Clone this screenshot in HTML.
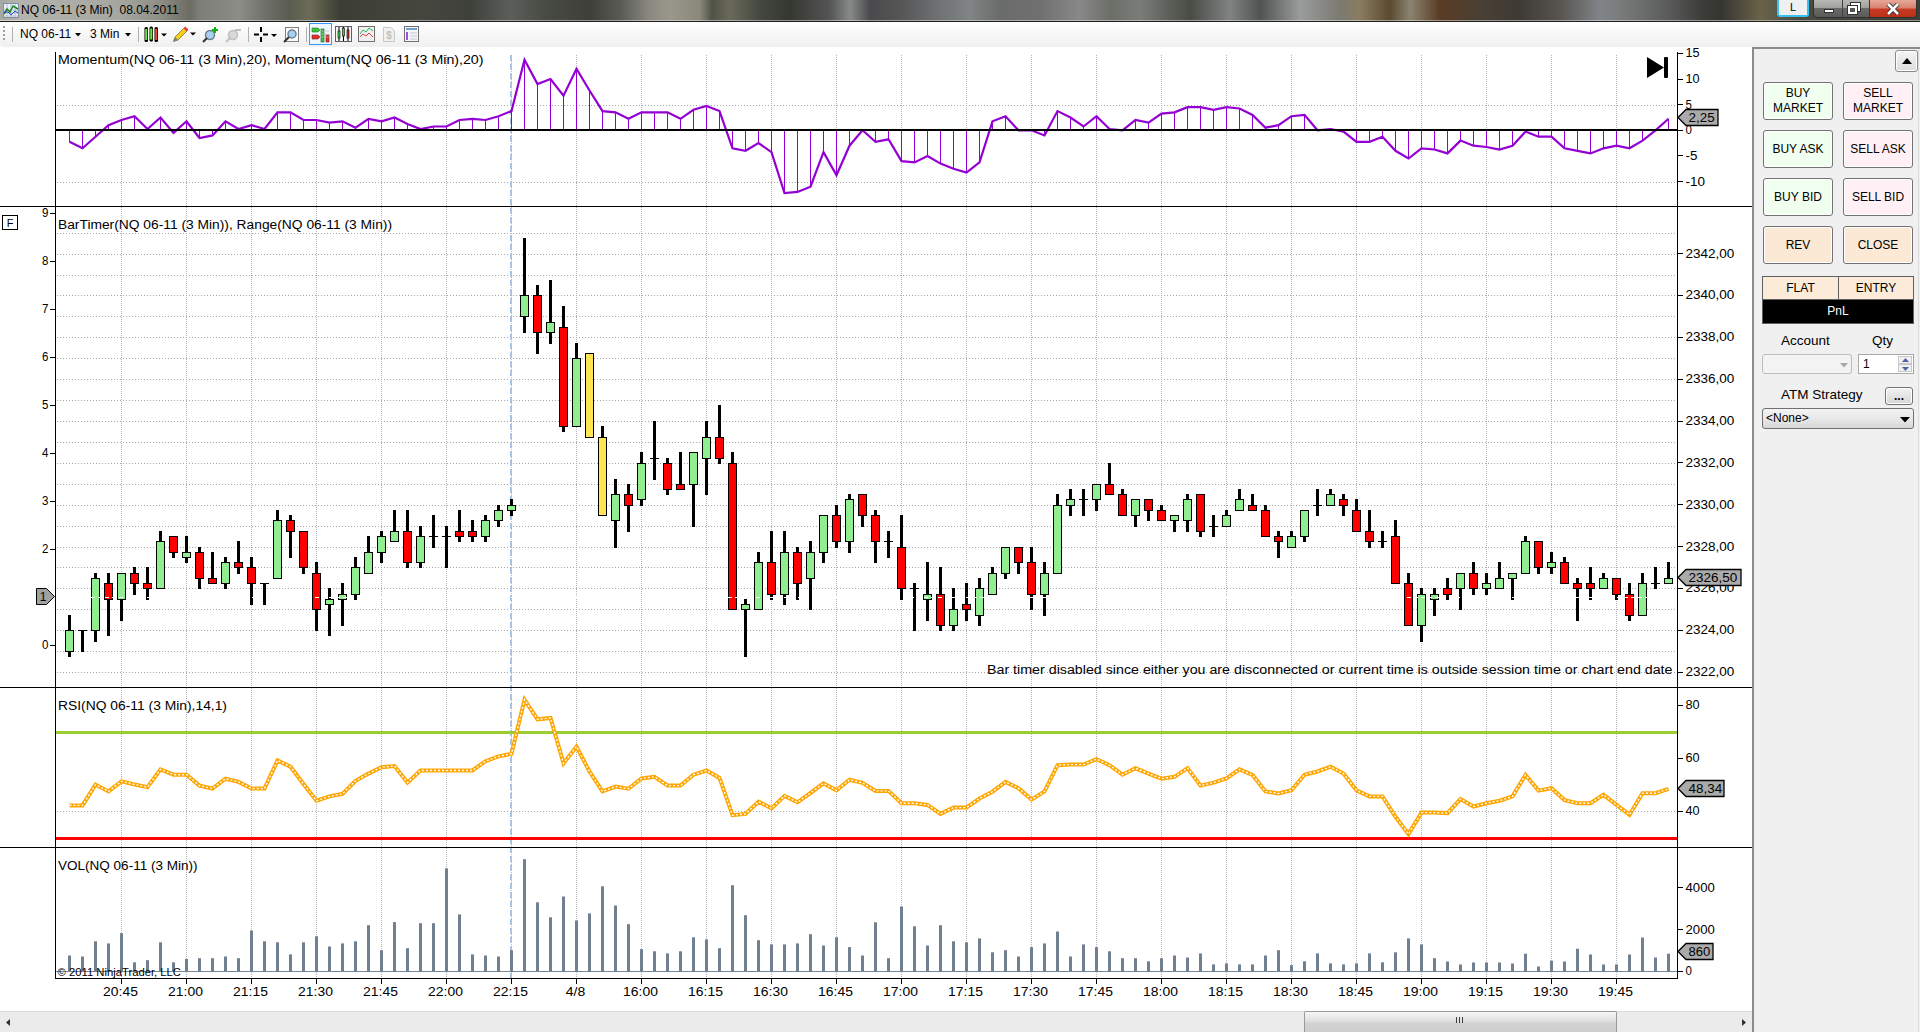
<!DOCTYPE html>
<html><head><meta charset="utf-8">
<style>
*{box-sizing:border-box}
html,body{margin:0;padding:0}
body{width:1920px;height:1032px;overflow:hidden;position:relative;background:#fff;font-family:"Liberation Sans",sans-serif;color:#000}
.abs{position:absolute}
#title{left:0;top:0;width:1920px;height:22px;background:linear-gradient(90deg,#a8a8a2 0px,#b4b4ae 20px,#a6a6a0 120px,#8e8e86 160px,#6c6c62 190px,#7c7e78 200px,#8c8d88 240px,#6e706a 265px,#5a5c50 290px,#6c6c58 310px,#3c3e34 340px,#45473f 420px,#3e403a 470px,#5c5e5a 510px,#484a44 545px,#3e4038 590px,#585a54 620px,#8c8a80 650px,#9a988c 670px,#8a887a 700px,#505246 712px,#6a6a5a 730px,#454840 760px,#353830 790px,#555555 830px,#888a8a 850px,#4a4a4c 870px,#555556 900px,#707274 940px,#808484 970px,#6a6c6a 1000px,#707070 1040px,#888888 1080px,#6c6e68 1110px,#7a7c78 1140px,#484c44 1190px,#808284 1230px,#505450 1260px,#9a9c9c 1300px,#7a7a70 1340px,#8a7c60 1360px,#5a4a30 1390px,#8a8470 1410px,#5a3c24 1440px,#4a4034 1480px,#3e3a34 1520px,#585450 1560px,#808488 1600px,#7a7c7c 1620px,#5c5e5e 1665px,#3e3e3a 1700px,#353532 1720px,#4e4a3c 1740px,#6a6248 1760px,#5a5848 1780px,#4a4a40 1800px,#3e3e38 1920px);}
#title .hl{position:absolute;left:0;right:0;top:20px;height:1px;background:rgba(255,255,255,0.45)}
#title .dk{position:absolute;left:0;right:0;top:21px;height:1px;background:#1e1e1e}
#title .t{position:absolute;left:21px;top:3px;font-size:12px;color:#000;white-space:nowrap}
#toolbar{left:0;top:22px;width:1920px;height:25px;background:linear-gradient(#ffffff,#f7f7f7 50%,#efefef);border-bottom-left-radius:4px}
.tbt{position:absolute;top:5px;font-size:12px;white-space:nowrap}
#rpanel{left:1752px;top:47px;width:168px;height:985px;background:#f0f0f0;border-left:2px solid #8c8c8c;border-top:2px solid #8c8c8c}
#rpanel:after{content:"";position:absolute;right:1px;top:0;bottom:0;width:1px;background:#dcdcdc}
.btn{position:absolute;border:1px solid #737373;border-radius:3px;font-size:12px;text-align:center;line-height:15px;display:flex;align-items:center;justify-content:center;box-shadow:inset 0 0 0 1px #fff}
.buy{background:#f0fff0}
.sell{background:#fff0f5}
.peach{background:#fbe9d6}
.lbl{position:absolute;font-size:13.5px;white-space:nowrap}
#hscroll{left:0;top:1011px;width:1752px;height:21px;background:#ebebeb;border-top:1px solid #dcdcdc}
</style></head><body>
<div id="title" class="abs"><div class="hl"></div><div class="dk"></div>
<svg class="abs" style="left:3px;top:3px" width="16" height="15" viewBox="0 0 16 15">
<rect x="0.5" y="0.5" width="15" height="14" fill="#e8f0f8" stroke="#8090a0"/>
<path d="M1 13 H15 M1 10 H15 M1 7 H15 M4 1 V14 M8 1 V14 M12 1 V14" stroke="#b0c0d0" stroke-width="1"/>
<polyline points="1,11 4,6 7,9 10,3 15,6" fill="none" stroke="#208020" stroke-width="1.5"/>
<polyline points="1,9 5,9 8,12 12,8 15,10" fill="none" stroke="#2040c0" stroke-width="1"/>
</svg>
<span class="t">NQ 06-11 (3 Min)&nbsp;&nbsp;08.04.2011</span>
<div class="abs" style="left:1777px;top:0;width:32px;height:17px;background:#eef0f2;border:2px solid #38c0f0;border-top:none;border-radius:0 0 3px 3px;font-size:11px;text-align:center;line-height:15px">L</div>
<div class="abs" style="left:1813px;top:0;width:104px;height:18px;border:1px solid #303030;border-top:none;border-radius:0 0 5px 5px;overflow:hidden;background:linear-gradient(#b8b8b4 0%,#a0a09c 45%,#6a6a68 50%,#5a5a58 100%)">
  <div class="abs" style="left:28px;top:0;width:1px;height:18px;background:#404040"></div>
  <div class="abs" style="left:55px;top:0;width:48px;height:18px;background:linear-gradient(#e8a898 0%,#d88070 45%,#c83a20 50%,#b83018 100%);border-left:1px solid #403030"></div>
  <div class="abs" style="left:10px;top:9px;width:10px;height:4px;background:#fff;border:1px solid #333"></div>
  <div class="abs" style="left:37px;top:3px;width:9px;height:8px;border:2px solid #fff;outline:1px solid #333"></div>
  <div class="abs" style="left:34px;top:6px;width:9px;height:8px;border:2px solid #fff;background:#555;outline:1px solid #333"></div>
  <svg class="abs" style="left:72px;top:3px" width="14" height="12" viewBox="0 0 14 12"><path d="M2 1 L12 11 M12 1 L2 11" stroke="#333" stroke-width="4.5"/><path d="M2 1 L12 11 M12 1 L2 11" stroke="#fff" stroke-width="2.6"/></svg>
</div>
</div>
<div id="toolbar" class="abs">
  <div class="abs" style="left:3px;top:4px;width:2px;height:2px;background:#a0a0a0;box-shadow:0 4px #a0a0a0,0 8px #a0a0a0,0 12px #a0a0a0"></div>
  <div class="abs" style="left:12px;top:5px;width:1px;height:15px;background:#b0b0b0"></div>
  <span class="tbt" style="left:20px">NQ 06-11</span>
  <svg class="abs" style="left:75px;top:11px" width="7" height="4"><path d="M0 0H6L3 3.5Z" fill="#000"/></svg>
  <span class="tbt" style="left:90px">3 Min</span>
  <svg class="abs" style="left:125px;top:11px" width="7" height="4"><path d="M0 0H6L3 3.5Z" fill="#000"/></svg>
  <div class="abs" style="left:138px;top:5px;width:1px;height:15px;background:#b0b0b0"></div>
  <svg class="abs" style="left:143px;top:4px" width="26" height="17" viewBox="0 0 26 17">
    <rect x="1.5" y="1" width="3.5" height="15" rx="1.5" fill="#000"/><rect x="2.2" y="3" width="2.1" height="11" fill="#70e040"/>
    <rect x="6.5" y="0.5" width="3.5" height="15" rx="1.5" fill="#000"/><rect x="7.2" y="2.5" width="2.1" height="11" fill="#70e040"/>
    <rect x="11.5" y="1" width="3.5" height="15" rx="1.5" fill="#000"/><rect x="12.2" y="3" width="2.1" height="11" fill="#f04838"/>
    <path d="M18 7.5H24L21 10.5Z" fill="#000"/></svg>
  <svg class="abs" style="left:172px;top:3px" width="27" height="18" viewBox="0 0 27 18">
    <path d="M1.5 16.5 L3 12 L12.5 2.5 L15.5 5.5 L6 15 Z" fill="#f0d020" stroke="#907020" stroke-width="0.8"/>
    <path d="M12.5 2.5 L15.5 5.5" stroke="#e84040" stroke-width="2.5"/><path d="M1.5 16.5 L3 12 L6 15Z" fill="#808080"/>
    <path d="M18 7.5H24L21 10.5Z" fill="#000"/></svg>
  <svg class="abs" style="left:202px;top:5px" width="17" height="16" viewBox="0 0 17 16">
    <circle cx="8" cy="8" r="4.5" fill="#a8d0f0" stroke="#708090" stroke-width="1.5"/><path d="M5 11 L1 15" stroke="#303030" stroke-width="2"/>
    <path d="M13 0V6M10 3H16" stroke="#10b010" stroke-width="2"/></svg>
  <svg class="abs" style="left:225px;top:5px" width="17" height="16" viewBox="0 0 17 16">
    <circle cx="8" cy="8" r="4.5" fill="#d8d8d8" stroke="#c0c0c0" stroke-width="1.5"/><path d="M5 11 L1 15" stroke="#c0c0c0" stroke-width="2"/>
    <path d="M10 3H16" stroke="#c0c0c0" stroke-width="2"/></svg>
  <div class="abs" style="left:248px;top:5px;width:1px;height:15px;background:#b0b0b0"></div>
  <svg class="abs" style="left:253px;top:4px" width="25" height="17" viewBox="0 0 25 17">
    <path d="M8 1V6M8 11V16M1 8.5H6M10 8.5H15" stroke="#000" stroke-width="2"/>
    <path d="M18 8H24L21 11Z" fill="#000"/></svg>
  <svg class="abs" style="left:283px;top:4px" width="16" height="17" viewBox="0 0 16 17">
    <rect x="2.5" y="1.5" width="13" height="14" fill="#fafafa" stroke="#808080"/>
    <circle cx="9" cy="8" r="4" fill="#a8d0f0" stroke="#708090" stroke-width="1.5"/><path d="M6 11 L1 16" stroke="#303030" stroke-width="2"/></svg>
  <div class="abs" style="left:306px;top:5px;width:1px;height:15px;background:#b0b0b0"></div>
  <div class="abs" style="left:309px;top:1px;width:23px;height:22px;border:1px solid #3399ff;background:#eef6ff"></div>
  <svg class="abs" style="left:311px;top:3px" width="20" height="18" viewBox="0 0 20 18">
    <path d="M1 3H7L9 5L7 7H1Z" fill="#40c040" stroke="#208020" stroke-width="0.6"/>
    <path d="M1 10H7L9 12L7 14H1Z" fill="#e03030" stroke="#802020" stroke-width="0.6"/>
    <rect x="10" y="4" width="3" height="13" fill="#40c040" stroke="#206020" stroke-width="0.6"/>
    <rect x="15" y="10" width="3" height="7" fill="#e03030" stroke="#802020" stroke-width="0.6"/>
    <path d="M9 6H19M9 9H19M9 12H19" stroke="#c0c0c0" stroke-width="0.6"/></svg>
  <svg class="abs" style="left:335px;top:3px" width="17" height="18" viewBox="0 0 17 18">
    <rect x="0.5" y="1.5" width="16" height="15" fill="#f4f4f4" stroke="#606060"/>
    <path d="M4 2V16M8.5 2V16M13 2V16" stroke="#000" stroke-width="1"/>
    <rect x="3" y="6" width="2" height="7" fill="#40d040" stroke="#000" stroke-width="0.6"/>
    <rect x="7.5" y="3" width="2" height="8" fill="#40d040" stroke="#000" stroke-width="0.6"/>
    <rect x="12" y="5" width="2" height="8" fill="#e03030" stroke="#000" stroke-width="0.6"/></svg>
  <svg class="abs" style="left:358px;top:3px" width="17" height="18" viewBox="0 0 17 18">
    <rect x="0.5" y="1.5" width="16" height="15" fill="#f0f0f0" stroke="#707070"/>
    <polyline points="2,9 5,5 8,7 11,3 15,6" fill="none" stroke="#30b060" stroke-width="1"/>
    <polyline points="2,12 5,9 8,11 11,8 15,12" fill="none" stroke="#e04040" stroke-width="1"/></svg>
  <svg class="abs" style="left:382px;top:4px" width="14" height="17" viewBox="0 0 14 17">
    <path d="M1.5 1.5H9L12.5 5V15.5H1.5Z" fill="#f0f0f0" stroke="#c8c8c8"/>
    <text x="7" y="13" font-size="10" font-family="Liberation Sans, sans-serif" fill="#c0c0c0" text-anchor="middle" font-weight="bold">$</text></svg>
  <svg class="abs" style="left:404px;top:3px" width="16" height="18" viewBox="0 0 16 18">
    <rect x="0.5" y="1.5" width="14" height="15" fill="#f4f6fa" stroke="#707070"/>
    <rect x="2" y="3" width="11" height="2" fill="#70a0d0"/>
    <rect x="2" y="7" width="2" height="8" fill="#a050e0"/>
    <path d="M6 8H13M6 11H13M6 14H13" stroke="#c0c8d0" stroke-width="1"/></svg>
</div>
<div id="rpanel" class="abs">
  <div class="btn" style="left:141px;top:1px;width:23px;height:22px;background:linear-gradient(#f4f4f4,#dcdcdc);border-color:#8a8a8a"><svg width="10" height="6"><path d="M0 6H10L5 0Z" fill="#000"/></svg></div>
</div>
<div class="btn buy abs" style="left:1763px;top:82px;width:70px;height:38px">BUY<br>MARKET</div>
<div class="btn sell abs" style="left:1843px;top:82px;width:70px;height:38px">SELL<br>MARKET</div>
<div class="btn buy abs" style="left:1763px;top:130px;width:70px;height:38px">BUY ASK</div>
<div class="btn sell abs" style="left:1843px;top:130px;width:70px;height:38px">SELL ASK</div>
<div class="btn buy abs" style="left:1763px;top:178px;width:70px;height:38px">BUY BID</div>
<div class="btn sell abs" style="left:1843px;top:178px;width:70px;height:38px">SELL BID</div>
<div class="btn peach abs" style="left:1763px;top:226px;width:70px;height:38px">REV</div>
<div class="btn peach abs" style="left:1843px;top:226px;width:70px;height:38px">CLOSE</div>
<div class="abs" style="left:1762px;top:276px;width:152px;height:48px;border:1px solid #606060;background:#000">
  <div class="abs" style="left:0;top:0;width:76px;height:23px;background:#fbebd8;border-right:1px solid #606060;border-bottom:1px solid #606060;font-size:12px;text-align:center;line-height:23px">FLAT</div>
  <div class="abs" style="left:76px;top:0;width:74px;height:23px;background:#fbebd8;border-bottom:1px solid #606060;font-size:12px;text-align:center;line-height:23px">ENTRY</div>
  <div class="abs" style="left:0;top:23px;width:150px;height:23px;color:#fff;font-size:12px;text-align:center;line-height:23px">PnL</div>
</div>
<span class="lbl abs" style="left:1781px;top:333px">Account</span>
<span class="lbl abs" style="left:1872px;top:333px">Qty</span>
<div class="abs" style="left:1762px;top:354px;width:90px;height:20px;border:1px solid #bcbcbc;border-radius:3px;background:#f3f3f3">
  <svg class="abs" style="left:77px;top:8px" width="9" height="5"><path d="M0 0H8L4 4.5Z" fill="#a8a8a8"/></svg></div>
<div class="abs" style="left:1858px;top:354px;width:56px;height:20px;border:1px solid #a8a8a8;background:#fff;font-size:12px;line-height:18px;padding-left:4px">1
  <div class="abs" style="left:39px;top:1px;width:14px;height:8px;border:1px solid #c8c8c8;background:#f0f0f0"><svg class="abs" style="left:3px;top:1px" width="7" height="4"><path d="M0 4H7L3.5 0Z" fill="#5060a0"/></svg></div>
  <div class="abs" style="left:39px;top:9px;width:14px;height:8px;border:1px solid #c8c8c8;background:#f0f0f0"><svg class="abs" style="left:3px;top:2px" width="7" height="4"><path d="M0 0H7L3.5 4Z" fill="#5060a0"/></svg></div>
</div>
<span class="lbl abs" style="left:1781px;top:387px">ATM Strategy</span>
<div class="btn abs" style="left:1885px;top:387px;width:28px;height:18px;background:linear-gradient(#f2f2f2,#d6d6d6);font-weight:bold;line-height:10px;align-items:flex-end;padding-bottom:3px">...</div>
<div class="abs" style="left:1762px;top:408px;width:152px;height:21px;border:1px solid #707070;border-radius:3px;background:linear-gradient(#f4f4f4,#e8e8e8 50%,#d8d8d8);font-size:12px;line-height:19px;padding-left:3px">&lt;None&gt;
  <svg class="abs" style="left:137px;top:8px" width="10" height="6"><path d="M0 0H10L5 5.5Z" fill="#000"/></svg></div>
<div id="hscroll" class="abs">
  <svg class="abs" style="left:6px;top:7px" width="5" height="8"><path d="M4 0V7L0 3.5Z" fill="#303030"/></svg>
  <div class="abs" style="left:1304px;top:-1px;width:313px;height:21px;border:1px solid #9a9a9a;border-bottom:none;border-radius:2px 2px 0 0;background:linear-gradient(#f6f6f6,#e0e0e0 45%,#d2d2d2 55%,#cfcfcf)">
    <div class="abs" style="left:151px;top:5px;width:1px;height:6px;background:#404040;box-shadow:3px 0 #404040,6px 0 #404040"></div>
  </div>
  <svg class="abs" style="left:1742px;top:7px" width="5" height="8"><path d="M0 0V7L4 3.5Z" fill="#303030"/></svg>
</div>
<svg id="chart" class="abs" style="left:0;top:0;pointer-events:none" width="1920" height="1032" viewBox="0 0 1920 1032">
<rect x="0" y="47" width="1752" height="964" fill="#fff"/>
<line x1="121.5" y1="55" x2="121.5" y2="206" stroke="#b4b6bc" stroke-width="1" stroke-dasharray="1 1"/>
<line x1="186.5" y1="55" x2="186.5" y2="206" stroke="#b4b6bc" stroke-width="1" stroke-dasharray="1 1"/>
<line x1="251.5" y1="55" x2="251.5" y2="206" stroke="#b4b6bc" stroke-width="1" stroke-dasharray="1 1"/>
<line x1="316.5" y1="55" x2="316.5" y2="206" stroke="#b4b6bc" stroke-width="1" stroke-dasharray="1 1"/>
<line x1="381.5" y1="55" x2="381.5" y2="206" stroke="#b4b6bc" stroke-width="1" stroke-dasharray="1 1"/>
<line x1="446.5" y1="55" x2="446.5" y2="206" stroke="#b4b6bc" stroke-width="1" stroke-dasharray="1 1"/>
<line x1="511.5" y1="55" x2="511.5" y2="206" stroke="#b4b6bc" stroke-width="1" stroke-dasharray="1 1"/>
<line x1="576.5" y1="55" x2="576.5" y2="206" stroke="#b4b6bc" stroke-width="1" stroke-dasharray="1 1"/>
<line x1="641.5" y1="55" x2="641.5" y2="206" stroke="#b4b6bc" stroke-width="1" stroke-dasharray="1 1"/>
<line x1="706.5" y1="55" x2="706.5" y2="206" stroke="#b4b6bc" stroke-width="1" stroke-dasharray="1 1"/>
<line x1="771.5" y1="55" x2="771.5" y2="206" stroke="#b4b6bc" stroke-width="1" stroke-dasharray="1 1"/>
<line x1="836.5" y1="55" x2="836.5" y2="206" stroke="#b4b6bc" stroke-width="1" stroke-dasharray="1 1"/>
<line x1="901.5" y1="55" x2="901.5" y2="206" stroke="#b4b6bc" stroke-width="1" stroke-dasharray="1 1"/>
<line x1="966.5" y1="55" x2="966.5" y2="206" stroke="#b4b6bc" stroke-width="1" stroke-dasharray="1 1"/>
<line x1="1031.5" y1="55" x2="1031.5" y2="206" stroke="#b4b6bc" stroke-width="1" stroke-dasharray="1 1"/>
<line x1="1096.5" y1="55" x2="1096.5" y2="206" stroke="#b4b6bc" stroke-width="1" stroke-dasharray="1 1"/>
<line x1="1161.5" y1="55" x2="1161.5" y2="206" stroke="#b4b6bc" stroke-width="1" stroke-dasharray="1 1"/>
<line x1="1226.5" y1="55" x2="1226.5" y2="206" stroke="#b4b6bc" stroke-width="1" stroke-dasharray="1 1"/>
<line x1="1291.5" y1="55" x2="1291.5" y2="206" stroke="#b4b6bc" stroke-width="1" stroke-dasharray="1 1"/>
<line x1="1356.5" y1="55" x2="1356.5" y2="206" stroke="#b4b6bc" stroke-width="1" stroke-dasharray="1 1"/>
<line x1="1421.5" y1="55" x2="1421.5" y2="206" stroke="#b4b6bc" stroke-width="1" stroke-dasharray="1 1"/>
<line x1="1486.5" y1="55" x2="1486.5" y2="206" stroke="#b4b6bc" stroke-width="1" stroke-dasharray="1 1"/>
<line x1="1551.5" y1="55" x2="1551.5" y2="206" stroke="#b4b6bc" stroke-width="1" stroke-dasharray="1 1"/>
<line x1="1616.5" y1="55" x2="1616.5" y2="206" stroke="#b4b6bc" stroke-width="1" stroke-dasharray="1 1"/>
<line x1="121.5" y1="207" x2="121.5" y2="687" stroke="#b4b6bc" stroke-width="1" stroke-dasharray="1 1"/>
<line x1="186.5" y1="207" x2="186.5" y2="687" stroke="#b4b6bc" stroke-width="1" stroke-dasharray="1 1"/>
<line x1="251.5" y1="207" x2="251.5" y2="687" stroke="#b4b6bc" stroke-width="1" stroke-dasharray="1 1"/>
<line x1="316.5" y1="207" x2="316.5" y2="687" stroke="#b4b6bc" stroke-width="1" stroke-dasharray="1 1"/>
<line x1="381.5" y1="207" x2="381.5" y2="687" stroke="#b4b6bc" stroke-width="1" stroke-dasharray="1 1"/>
<line x1="446.5" y1="207" x2="446.5" y2="687" stroke="#b4b6bc" stroke-width="1" stroke-dasharray="1 1"/>
<line x1="511.5" y1="207" x2="511.5" y2="687" stroke="#b4b6bc" stroke-width="1" stroke-dasharray="1 1"/>
<line x1="576.5" y1="207" x2="576.5" y2="687" stroke="#b4b6bc" stroke-width="1" stroke-dasharray="1 1"/>
<line x1="641.5" y1="207" x2="641.5" y2="687" stroke="#b4b6bc" stroke-width="1" stroke-dasharray="1 1"/>
<line x1="706.5" y1="207" x2="706.5" y2="687" stroke="#b4b6bc" stroke-width="1" stroke-dasharray="1 1"/>
<line x1="771.5" y1="207" x2="771.5" y2="687" stroke="#b4b6bc" stroke-width="1" stroke-dasharray="1 1"/>
<line x1="836.5" y1="207" x2="836.5" y2="687" stroke="#b4b6bc" stroke-width="1" stroke-dasharray="1 1"/>
<line x1="901.5" y1="207" x2="901.5" y2="687" stroke="#b4b6bc" stroke-width="1" stroke-dasharray="1 1"/>
<line x1="966.5" y1="207" x2="966.5" y2="687" stroke="#b4b6bc" stroke-width="1" stroke-dasharray="1 1"/>
<line x1="1031.5" y1="207" x2="1031.5" y2="687" stroke="#b4b6bc" stroke-width="1" stroke-dasharray="1 1"/>
<line x1="1096.5" y1="207" x2="1096.5" y2="687" stroke="#b4b6bc" stroke-width="1" stroke-dasharray="1 1"/>
<line x1="1161.5" y1="207" x2="1161.5" y2="687" stroke="#b4b6bc" stroke-width="1" stroke-dasharray="1 1"/>
<line x1="1226.5" y1="207" x2="1226.5" y2="687" stroke="#b4b6bc" stroke-width="1" stroke-dasharray="1 1"/>
<line x1="1291.5" y1="207" x2="1291.5" y2="687" stroke="#b4b6bc" stroke-width="1" stroke-dasharray="1 1"/>
<line x1="1356.5" y1="207" x2="1356.5" y2="687" stroke="#b4b6bc" stroke-width="1" stroke-dasharray="1 1"/>
<line x1="1421.5" y1="207" x2="1421.5" y2="687" stroke="#b4b6bc" stroke-width="1" stroke-dasharray="1 1"/>
<line x1="1486.5" y1="207" x2="1486.5" y2="687" stroke="#b4b6bc" stroke-width="1" stroke-dasharray="1 1"/>
<line x1="1551.5" y1="207" x2="1551.5" y2="687" stroke="#b4b6bc" stroke-width="1" stroke-dasharray="1 1"/>
<line x1="1616.5" y1="207" x2="1616.5" y2="687" stroke="#b4b6bc" stroke-width="1" stroke-dasharray="1 1"/>
<line x1="121.5" y1="688" x2="121.5" y2="847" stroke="#b4b6bc" stroke-width="1" stroke-dasharray="1 1"/>
<line x1="186.5" y1="688" x2="186.5" y2="847" stroke="#b4b6bc" stroke-width="1" stroke-dasharray="1 1"/>
<line x1="251.5" y1="688" x2="251.5" y2="847" stroke="#b4b6bc" stroke-width="1" stroke-dasharray="1 1"/>
<line x1="316.5" y1="688" x2="316.5" y2="847" stroke="#b4b6bc" stroke-width="1" stroke-dasharray="1 1"/>
<line x1="381.5" y1="688" x2="381.5" y2="847" stroke="#b4b6bc" stroke-width="1" stroke-dasharray="1 1"/>
<line x1="446.5" y1="688" x2="446.5" y2="847" stroke="#b4b6bc" stroke-width="1" stroke-dasharray="1 1"/>
<line x1="511.5" y1="688" x2="511.5" y2="847" stroke="#b4b6bc" stroke-width="1" stroke-dasharray="1 1"/>
<line x1="576.5" y1="688" x2="576.5" y2="847" stroke="#b4b6bc" stroke-width="1" stroke-dasharray="1 1"/>
<line x1="641.5" y1="688" x2="641.5" y2="847" stroke="#b4b6bc" stroke-width="1" stroke-dasharray="1 1"/>
<line x1="706.5" y1="688" x2="706.5" y2="847" stroke="#b4b6bc" stroke-width="1" stroke-dasharray="1 1"/>
<line x1="771.5" y1="688" x2="771.5" y2="847" stroke="#b4b6bc" stroke-width="1" stroke-dasharray="1 1"/>
<line x1="836.5" y1="688" x2="836.5" y2="847" stroke="#b4b6bc" stroke-width="1" stroke-dasharray="1 1"/>
<line x1="901.5" y1="688" x2="901.5" y2="847" stroke="#b4b6bc" stroke-width="1" stroke-dasharray="1 1"/>
<line x1="966.5" y1="688" x2="966.5" y2="847" stroke="#b4b6bc" stroke-width="1" stroke-dasharray="1 1"/>
<line x1="1031.5" y1="688" x2="1031.5" y2="847" stroke="#b4b6bc" stroke-width="1" stroke-dasharray="1 1"/>
<line x1="1096.5" y1="688" x2="1096.5" y2="847" stroke="#b4b6bc" stroke-width="1" stroke-dasharray="1 1"/>
<line x1="1161.5" y1="688" x2="1161.5" y2="847" stroke="#b4b6bc" stroke-width="1" stroke-dasharray="1 1"/>
<line x1="1226.5" y1="688" x2="1226.5" y2="847" stroke="#b4b6bc" stroke-width="1" stroke-dasharray="1 1"/>
<line x1="1291.5" y1="688" x2="1291.5" y2="847" stroke="#b4b6bc" stroke-width="1" stroke-dasharray="1 1"/>
<line x1="1356.5" y1="688" x2="1356.5" y2="847" stroke="#b4b6bc" stroke-width="1" stroke-dasharray="1 1"/>
<line x1="1421.5" y1="688" x2="1421.5" y2="847" stroke="#b4b6bc" stroke-width="1" stroke-dasharray="1 1"/>
<line x1="1486.5" y1="688" x2="1486.5" y2="847" stroke="#b4b6bc" stroke-width="1" stroke-dasharray="1 1"/>
<line x1="1551.5" y1="688" x2="1551.5" y2="847" stroke="#b4b6bc" stroke-width="1" stroke-dasharray="1 1"/>
<line x1="1616.5" y1="688" x2="1616.5" y2="847" stroke="#b4b6bc" stroke-width="1" stroke-dasharray="1 1"/>
<line x1="121.5" y1="848" x2="121.5" y2="978" stroke="#b4b6bc" stroke-width="1" stroke-dasharray="1 1"/>
<line x1="186.5" y1="848" x2="186.5" y2="978" stroke="#b4b6bc" stroke-width="1" stroke-dasharray="1 1"/>
<line x1="251.5" y1="848" x2="251.5" y2="978" stroke="#b4b6bc" stroke-width="1" stroke-dasharray="1 1"/>
<line x1="316.5" y1="848" x2="316.5" y2="978" stroke="#b4b6bc" stroke-width="1" stroke-dasharray="1 1"/>
<line x1="381.5" y1="848" x2="381.5" y2="978" stroke="#b4b6bc" stroke-width="1" stroke-dasharray="1 1"/>
<line x1="446.5" y1="848" x2="446.5" y2="978" stroke="#b4b6bc" stroke-width="1" stroke-dasharray="1 1"/>
<line x1="511.5" y1="848" x2="511.5" y2="978" stroke="#b4b6bc" stroke-width="1" stroke-dasharray="1 1"/>
<line x1="576.5" y1="848" x2="576.5" y2="978" stroke="#b4b6bc" stroke-width="1" stroke-dasharray="1 1"/>
<line x1="641.5" y1="848" x2="641.5" y2="978" stroke="#b4b6bc" stroke-width="1" stroke-dasharray="1 1"/>
<line x1="706.5" y1="848" x2="706.5" y2="978" stroke="#b4b6bc" stroke-width="1" stroke-dasharray="1 1"/>
<line x1="771.5" y1="848" x2="771.5" y2="978" stroke="#b4b6bc" stroke-width="1" stroke-dasharray="1 1"/>
<line x1="836.5" y1="848" x2="836.5" y2="978" stroke="#b4b6bc" stroke-width="1" stroke-dasharray="1 1"/>
<line x1="901.5" y1="848" x2="901.5" y2="978" stroke="#b4b6bc" stroke-width="1" stroke-dasharray="1 1"/>
<line x1="966.5" y1="848" x2="966.5" y2="978" stroke="#b4b6bc" stroke-width="1" stroke-dasharray="1 1"/>
<line x1="1031.5" y1="848" x2="1031.5" y2="978" stroke="#b4b6bc" stroke-width="1" stroke-dasharray="1 1"/>
<line x1="1096.5" y1="848" x2="1096.5" y2="978" stroke="#b4b6bc" stroke-width="1" stroke-dasharray="1 1"/>
<line x1="1161.5" y1="848" x2="1161.5" y2="978" stroke="#b4b6bc" stroke-width="1" stroke-dasharray="1 1"/>
<line x1="1226.5" y1="848" x2="1226.5" y2="978" stroke="#b4b6bc" stroke-width="1" stroke-dasharray="1 1"/>
<line x1="1291.5" y1="848" x2="1291.5" y2="978" stroke="#b4b6bc" stroke-width="1" stroke-dasharray="1 1"/>
<line x1="1356.5" y1="848" x2="1356.5" y2="978" stroke="#b4b6bc" stroke-width="1" stroke-dasharray="1 1"/>
<line x1="1421.5" y1="848" x2="1421.5" y2="978" stroke="#b4b6bc" stroke-width="1" stroke-dasharray="1 1"/>
<line x1="1486.5" y1="848" x2="1486.5" y2="978" stroke="#b4b6bc" stroke-width="1" stroke-dasharray="1 1"/>
<line x1="1551.5" y1="848" x2="1551.5" y2="978" stroke="#b4b6bc" stroke-width="1" stroke-dasharray="1 1"/>
<line x1="1616.5" y1="848" x2="1616.5" y2="978" stroke="#b4b6bc" stroke-width="1" stroke-dasharray="1 1"/>
<line x1="57" y1="105.5" x2="1677" y2="105.5" stroke="#a8a8ac" stroke-width="1" stroke-dasharray="1 2"/>
<line x1="57" y1="182.5" x2="1677" y2="182.5" stroke="#a8a8ac" stroke-width="1" stroke-dasharray="1 2"/>
<line x1="57" y1="672.5" x2="1677" y2="672.5" stroke="#a8a8ac" stroke-width="1" stroke-dasharray="1 2"/>
<line x1="57" y1="651.5" x2="1677" y2="651.5" stroke="#a8a8ac" stroke-width="1" stroke-dasharray="1 2"/>
<line x1="57" y1="630.5" x2="1677" y2="630.5" stroke="#a8a8ac" stroke-width="1" stroke-dasharray="1 2"/>
<line x1="57" y1="609.5" x2="1677" y2="609.5" stroke="#a8a8ac" stroke-width="1" stroke-dasharray="1 2"/>
<line x1="57" y1="588.5" x2="1677" y2="588.5" stroke="#a8a8ac" stroke-width="1" stroke-dasharray="1 2"/>
<line x1="57" y1="567.5" x2="1677" y2="567.5" stroke="#a8a8ac" stroke-width="1" stroke-dasharray="1 2"/>
<line x1="57" y1="547.5" x2="1677" y2="547.5" stroke="#a8a8ac" stroke-width="1" stroke-dasharray="1 2"/>
<line x1="57" y1="526.5" x2="1677" y2="526.5" stroke="#a8a8ac" stroke-width="1" stroke-dasharray="1 2"/>
<line x1="57" y1="505.5" x2="1677" y2="505.5" stroke="#a8a8ac" stroke-width="1" stroke-dasharray="1 2"/>
<line x1="57" y1="484.5" x2="1677" y2="484.5" stroke="#a8a8ac" stroke-width="1" stroke-dasharray="1 2"/>
<line x1="57" y1="463.5" x2="1677" y2="463.5" stroke="#a8a8ac" stroke-width="1" stroke-dasharray="1 2"/>
<line x1="57" y1="442.5" x2="1677" y2="442.5" stroke="#a8a8ac" stroke-width="1" stroke-dasharray="1 2"/>
<line x1="57" y1="421.5" x2="1677" y2="421.5" stroke="#a8a8ac" stroke-width="1" stroke-dasharray="1 2"/>
<line x1="57" y1="400.5" x2="1677" y2="400.5" stroke="#a8a8ac" stroke-width="1" stroke-dasharray="1 2"/>
<line x1="57" y1="379.5" x2="1677" y2="379.5" stroke="#a8a8ac" stroke-width="1" stroke-dasharray="1 2"/>
<line x1="57" y1="358.5" x2="1677" y2="358.5" stroke="#a8a8ac" stroke-width="1" stroke-dasharray="1 2"/>
<line x1="57" y1="337.5" x2="1677" y2="337.5" stroke="#a8a8ac" stroke-width="1" stroke-dasharray="1 2"/>
<line x1="57" y1="316.5" x2="1677" y2="316.5" stroke="#a8a8ac" stroke-width="1" stroke-dasharray="1 2"/>
<line x1="57" y1="295.5" x2="1677" y2="295.5" stroke="#a8a8ac" stroke-width="1" stroke-dasharray="1 2"/>
<line x1="57" y1="275.5" x2="1677" y2="275.5" stroke="#a8a8ac" stroke-width="1" stroke-dasharray="1 2"/>
<line x1="57" y1="254.5" x2="1677" y2="254.5" stroke="#a8a8ac" stroke-width="1" stroke-dasharray="1 2"/>
<line x1="57" y1="233.5" x2="1677" y2="233.5" stroke="#a8a8ac" stroke-width="1" stroke-dasharray="1 2"/>
<line x1="57" y1="811.5" x2="1677" y2="811.5" stroke="#a8a8ac" stroke-width="1" stroke-dasharray="1 2"/>
<line x1="511" y1="55" x2="511" y2="978" stroke="#a8c4e4" stroke-width="2" stroke-dasharray="6 3"/>
<line x1="69.5" y1="130.3" x2="69.5" y2="141.8" stroke="#9400d3" stroke-width="1"/>
<line x1="82.5" y1="130.3" x2="82.5" y2="148.3" stroke="#9400d3" stroke-width="1"/>
<line x1="95.5" y1="130.3" x2="95.5" y2="136.7" stroke="#9400d3" stroke-width="1"/>
<line x1="108.5" y1="130.3" x2="108.5" y2="125.2" stroke="#9400d3" stroke-width="1"/>
<line x1="121.5" y1="130.3" x2="121.5" y2="120.0" stroke="#9400d3" stroke-width="1"/>
<line x1="134.5" y1="130.3" x2="134.5" y2="116.2" stroke="#9400d3" stroke-width="1"/>
<line x1="147.5" y1="130.3" x2="147.5" y2="129.0" stroke="#9400d3" stroke-width="1"/>
<line x1="160.5" y1="130.3" x2="160.5" y2="117.5" stroke="#9400d3" stroke-width="1"/>
<line x1="173.5" y1="130.3" x2="173.5" y2="132.9" stroke="#9400d3" stroke-width="1"/>
<line x1="186.5" y1="130.3" x2="186.5" y2="121.3" stroke="#9400d3" stroke-width="1"/>
<line x1="199.5" y1="130.3" x2="199.5" y2="138.0" stroke="#9400d3" stroke-width="1"/>
<line x1="212.5" y1="130.3" x2="212.5" y2="135.4" stroke="#9400d3" stroke-width="1"/>
<line x1="225.5" y1="130.3" x2="225.5" y2="121.3" stroke="#9400d3" stroke-width="1"/>
<line x1="238.5" y1="130.3" x2="238.5" y2="129.0" stroke="#9400d3" stroke-width="1"/>
<line x1="251.5" y1="130.3" x2="251.5" y2="125.2" stroke="#9400d3" stroke-width="1"/>
<line x1="264.5" y1="130.3" x2="264.5" y2="129.0" stroke="#9400d3" stroke-width="1"/>
<line x1="277.5" y1="130.3" x2="277.5" y2="112.3" stroke="#9400d3" stroke-width="1"/>
<line x1="290.5" y1="130.3" x2="290.5" y2="112.3" stroke="#9400d3" stroke-width="1"/>
<line x1="303.5" y1="130.3" x2="303.5" y2="120.0" stroke="#9400d3" stroke-width="1"/>
<line x1="316.5" y1="130.3" x2="316.5" y2="120.0" stroke="#9400d3" stroke-width="1"/>
<line x1="329.5" y1="130.3" x2="329.5" y2="122.6" stroke="#9400d3" stroke-width="1"/>
<line x1="342.5" y1="130.3" x2="342.5" y2="121.3" stroke="#9400d3" stroke-width="1"/>
<line x1="355.5" y1="130.3" x2="355.5" y2="127.7" stroke="#9400d3" stroke-width="1"/>
<line x1="368.5" y1="130.3" x2="368.5" y2="118.8" stroke="#9400d3" stroke-width="1"/>
<line x1="381.5" y1="130.3" x2="381.5" y2="121.3" stroke="#9400d3" stroke-width="1"/>
<line x1="394.5" y1="130.3" x2="394.5" y2="117.5" stroke="#9400d3" stroke-width="1"/>
<line x1="407.5" y1="130.3" x2="407.5" y2="123.9" stroke="#9400d3" stroke-width="1"/>
<line x1="420.5" y1="130.3" x2="420.5" y2="129.0" stroke="#9400d3" stroke-width="1"/>
<line x1="433.5" y1="130.3" x2="433.5" y2="126.5" stroke="#9400d3" stroke-width="1"/>
<line x1="446.5" y1="130.3" x2="446.5" y2="126.5" stroke="#9400d3" stroke-width="1"/>
<line x1="459.5" y1="130.3" x2="459.5" y2="120.0" stroke="#9400d3" stroke-width="1"/>
<line x1="472.5" y1="130.3" x2="472.5" y2="118.8" stroke="#9400d3" stroke-width="1"/>
<line x1="485.5" y1="130.3" x2="485.5" y2="120.0" stroke="#9400d3" stroke-width="1"/>
<line x1="498.5" y1="130.3" x2="498.5" y2="116.2" stroke="#9400d3" stroke-width="1"/>
<line x1="511.5" y1="130.3" x2="511.5" y2="111.1" stroke="#9400d3" stroke-width="1"/>
<line x1="524.5" y1="130.3" x2="524.5" y2="59.8" stroke="#9400d3" stroke-width="1"/>
<line x1="537.5" y1="130.3" x2="537.5" y2="84.1" stroke="#9400d3" stroke-width="1"/>
<line x1="550.5" y1="130.3" x2="550.5" y2="79.0" stroke="#9400d3" stroke-width="1"/>
<line x1="563.5" y1="130.3" x2="563.5" y2="95.7" stroke="#9400d3" stroke-width="1"/>
<line x1="576.5" y1="130.3" x2="576.5" y2="68.7" stroke="#9400d3" stroke-width="1"/>
<line x1="589.5" y1="130.3" x2="589.5" y2="90.5" stroke="#9400d3" stroke-width="1"/>
<line x1="602.5" y1="130.3" x2="602.5" y2="111.1" stroke="#9400d3" stroke-width="1"/>
<line x1="615.5" y1="130.3" x2="615.5" y2="112.3" stroke="#9400d3" stroke-width="1"/>
<line x1="628.5" y1="130.3" x2="628.5" y2="118.8" stroke="#9400d3" stroke-width="1"/>
<line x1="641.5" y1="130.3" x2="641.5" y2="112.3" stroke="#9400d3" stroke-width="1"/>
<line x1="654.5" y1="130.3" x2="654.5" y2="112.3" stroke="#9400d3" stroke-width="1"/>
<line x1="667.5" y1="130.3" x2="667.5" y2="112.3" stroke="#9400d3" stroke-width="1"/>
<line x1="680.5" y1="130.3" x2="680.5" y2="118.8" stroke="#9400d3" stroke-width="1"/>
<line x1="693.5" y1="130.3" x2="693.5" y2="109.8" stroke="#9400d3" stroke-width="1"/>
<line x1="706.5" y1="130.3" x2="706.5" y2="105.9" stroke="#9400d3" stroke-width="1"/>
<line x1="719.5" y1="130.3" x2="719.5" y2="111.1" stroke="#9400d3" stroke-width="1"/>
<line x1="732.5" y1="130.3" x2="732.5" y2="148.3" stroke="#9400d3" stroke-width="1"/>
<line x1="745.5" y1="130.3" x2="745.5" y2="150.8" stroke="#9400d3" stroke-width="1"/>
<line x1="758.5" y1="130.3" x2="758.5" y2="143.1" stroke="#9400d3" stroke-width="1"/>
<line x1="771.5" y1="130.3" x2="771.5" y2="152.1" stroke="#9400d3" stroke-width="1"/>
<line x1="784.5" y1="130.3" x2="784.5" y2="193.1" stroke="#9400d3" stroke-width="1"/>
<line x1="797.5" y1="130.3" x2="797.5" y2="191.9" stroke="#9400d3" stroke-width="1"/>
<line x1="810.5" y1="130.3" x2="810.5" y2="186.7" stroke="#9400d3" stroke-width="1"/>
<line x1="823.5" y1="130.3" x2="823.5" y2="152.1" stroke="#9400d3" stroke-width="1"/>
<line x1="836.5" y1="130.3" x2="836.5" y2="175.2" stroke="#9400d3" stroke-width="1"/>
<line x1="849.5" y1="130.3" x2="849.5" y2="145.7" stroke="#9400d3" stroke-width="1"/>
<line x1="862.5" y1="130.3" x2="862.5" y2="130.3" stroke="#9400d3" stroke-width="1"/>
<line x1="875.5" y1="130.3" x2="875.5" y2="141.8" stroke="#9400d3" stroke-width="1"/>
<line x1="888.5" y1="130.3" x2="888.5" y2="139.3" stroke="#9400d3" stroke-width="1"/>
<line x1="901.5" y1="130.3" x2="901.5" y2="161.1" stroke="#9400d3" stroke-width="1"/>
<line x1="914.5" y1="130.3" x2="914.5" y2="162.4" stroke="#9400d3" stroke-width="1"/>
<line x1="927.5" y1="130.3" x2="927.5" y2="156.0" stroke="#9400d3" stroke-width="1"/>
<line x1="940.5" y1="130.3" x2="940.5" y2="163.6" stroke="#9400d3" stroke-width="1"/>
<line x1="953.5" y1="130.3" x2="953.5" y2="168.8" stroke="#9400d3" stroke-width="1"/>
<line x1="966.5" y1="130.3" x2="966.5" y2="172.6" stroke="#9400d3" stroke-width="1"/>
<line x1="979.5" y1="130.3" x2="979.5" y2="162.4" stroke="#9400d3" stroke-width="1"/>
<line x1="992.5" y1="130.3" x2="992.5" y2="121.3" stroke="#9400d3" stroke-width="1"/>
<line x1="1005.5" y1="130.3" x2="1005.5" y2="116.2" stroke="#9400d3" stroke-width="1"/>
<line x1="1018.5" y1="130.3" x2="1018.5" y2="130.3" stroke="#9400d3" stroke-width="1"/>
<line x1="1031.5" y1="130.3" x2="1031.5" y2="130.3" stroke="#9400d3" stroke-width="1"/>
<line x1="1044.5" y1="130.3" x2="1044.5" y2="135.4" stroke="#9400d3" stroke-width="1"/>
<line x1="1057.5" y1="130.3" x2="1057.5" y2="111.1" stroke="#9400d3" stroke-width="1"/>
<line x1="1070.5" y1="130.3" x2="1070.5" y2="117.5" stroke="#9400d3" stroke-width="1"/>
<line x1="1083.5" y1="130.3" x2="1083.5" y2="126.5" stroke="#9400d3" stroke-width="1"/>
<line x1="1096.5" y1="130.3" x2="1096.5" y2="116.2" stroke="#9400d3" stroke-width="1"/>
<line x1="1109.5" y1="130.3" x2="1109.5" y2="129.0" stroke="#9400d3" stroke-width="1"/>
<line x1="1122.5" y1="130.3" x2="1122.5" y2="130.3" stroke="#9400d3" stroke-width="1"/>
<line x1="1135.5" y1="130.3" x2="1135.5" y2="120.0" stroke="#9400d3" stroke-width="1"/>
<line x1="1148.5" y1="130.3" x2="1148.5" y2="122.6" stroke="#9400d3" stroke-width="1"/>
<line x1="1161.5" y1="130.3" x2="1161.5" y2="113.6" stroke="#9400d3" stroke-width="1"/>
<line x1="1174.5" y1="130.3" x2="1174.5" y2="112.3" stroke="#9400d3" stroke-width="1"/>
<line x1="1187.5" y1="130.3" x2="1187.5" y2="107.2" stroke="#9400d3" stroke-width="1"/>
<line x1="1200.5" y1="130.3" x2="1200.5" y2="107.2" stroke="#9400d3" stroke-width="1"/>
<line x1="1213.5" y1="130.3" x2="1213.5" y2="109.8" stroke="#9400d3" stroke-width="1"/>
<line x1="1226.5" y1="130.3" x2="1226.5" y2="107.2" stroke="#9400d3" stroke-width="1"/>
<line x1="1239.5" y1="130.3" x2="1239.5" y2="108.5" stroke="#9400d3" stroke-width="1"/>
<line x1="1252.5" y1="130.3" x2="1252.5" y2="114.9" stroke="#9400d3" stroke-width="1"/>
<line x1="1265.5" y1="130.3" x2="1265.5" y2="127.7" stroke="#9400d3" stroke-width="1"/>
<line x1="1278.5" y1="130.3" x2="1278.5" y2="125.2" stroke="#9400d3" stroke-width="1"/>
<line x1="1291.5" y1="130.3" x2="1291.5" y2="116.2" stroke="#9400d3" stroke-width="1"/>
<line x1="1304.5" y1="130.3" x2="1304.5" y2="114.9" stroke="#9400d3" stroke-width="1"/>
<line x1="1317.5" y1="130.3" x2="1317.5" y2="130.3" stroke="#9400d3" stroke-width="1"/>
<line x1="1330.5" y1="130.3" x2="1330.5" y2="129.0" stroke="#9400d3" stroke-width="1"/>
<line x1="1343.5" y1="130.3" x2="1343.5" y2="131.6" stroke="#9400d3" stroke-width="1"/>
<line x1="1356.5" y1="130.3" x2="1356.5" y2="141.8" stroke="#9400d3" stroke-width="1"/>
<line x1="1369.5" y1="130.3" x2="1369.5" y2="141.8" stroke="#9400d3" stroke-width="1"/>
<line x1="1382.5" y1="130.3" x2="1382.5" y2="136.7" stroke="#9400d3" stroke-width="1"/>
<line x1="1395.5" y1="130.3" x2="1395.5" y2="150.8" stroke="#9400d3" stroke-width="1"/>
<line x1="1408.5" y1="130.3" x2="1408.5" y2="158.5" stroke="#9400d3" stroke-width="1"/>
<line x1="1421.5" y1="130.3" x2="1421.5" y2="148.3" stroke="#9400d3" stroke-width="1"/>
<line x1="1434.5" y1="130.3" x2="1434.5" y2="149.5" stroke="#9400d3" stroke-width="1"/>
<line x1="1447.5" y1="130.3" x2="1447.5" y2="153.4" stroke="#9400d3" stroke-width="1"/>
<line x1="1460.5" y1="130.3" x2="1460.5" y2="140.6" stroke="#9400d3" stroke-width="1"/>
<line x1="1473.5" y1="130.3" x2="1473.5" y2="145.7" stroke="#9400d3" stroke-width="1"/>
<line x1="1486.5" y1="130.3" x2="1486.5" y2="147.0" stroke="#9400d3" stroke-width="1"/>
<line x1="1499.5" y1="130.3" x2="1499.5" y2="149.5" stroke="#9400d3" stroke-width="1"/>
<line x1="1512.5" y1="130.3" x2="1512.5" y2="145.7" stroke="#9400d3" stroke-width="1"/>
<line x1="1525.5" y1="130.3" x2="1525.5" y2="131.6" stroke="#9400d3" stroke-width="1"/>
<line x1="1538.5" y1="130.3" x2="1538.5" y2="136.7" stroke="#9400d3" stroke-width="1"/>
<line x1="1551.5" y1="130.3" x2="1551.5" y2="136.7" stroke="#9400d3" stroke-width="1"/>
<line x1="1564.5" y1="130.3" x2="1564.5" y2="148.3" stroke="#9400d3" stroke-width="1"/>
<line x1="1577.5" y1="130.3" x2="1577.5" y2="150.8" stroke="#9400d3" stroke-width="1"/>
<line x1="1590.5" y1="130.3" x2="1590.5" y2="153.4" stroke="#9400d3" stroke-width="1"/>
<line x1="1603.5" y1="130.3" x2="1603.5" y2="148.3" stroke="#9400d3" stroke-width="1"/>
<line x1="1616.5" y1="130.3" x2="1616.5" y2="145.7" stroke="#9400d3" stroke-width="1"/>
<line x1="1629.5" y1="130.3" x2="1629.5" y2="148.3" stroke="#9400d3" stroke-width="1"/>
<line x1="1642.5" y1="130.3" x2="1642.5" y2="140.6" stroke="#9400d3" stroke-width="1"/>
<line x1="1655.5" y1="130.3" x2="1655.5" y2="130.3" stroke="#9400d3" stroke-width="1"/>
<line x1="1668.5" y1="130.3" x2="1668.5" y2="118.8" stroke="#9400d3" stroke-width="1"/>
<polyline points="69.5,141.8 82.5,148.3 95.5,136.7 108.5,125.2 121.5,120.0 134.5,116.2 147.5,129.0 160.5,117.5 173.5,132.9 186.5,121.3 199.5,138.0 212.5,135.4 225.5,121.3 238.5,129.0 251.5,125.2 264.5,129.0 277.5,112.3 290.5,112.3 303.5,120.0 316.5,120.0 329.5,122.6 342.5,121.3 355.5,127.7 368.5,118.8 381.5,121.3 394.5,117.5 407.5,123.9 420.5,129.0 433.5,126.5 446.5,126.5 459.5,120.0 472.5,118.8 485.5,120.0 498.5,116.2 511.5,111.1 524.5,59.8 537.5,84.1 550.5,79.0 563.5,95.7 576.5,68.7 589.5,90.5 602.5,111.1 615.5,112.3 628.5,118.8 641.5,112.3 654.5,112.3 667.5,112.3 680.5,118.8 693.5,109.8 706.5,105.9 719.5,111.1 732.5,148.3 745.5,150.8 758.5,143.1 771.5,152.1 784.5,193.1 797.5,191.9 810.5,186.7 823.5,152.1 836.5,175.2 849.5,145.7 862.5,130.3 875.5,141.8 888.5,139.3 901.5,161.1 914.5,162.4 927.5,156.0 940.5,163.6 953.5,168.8 966.5,172.6 979.5,162.4 992.5,121.3 1005.5,116.2 1018.5,130.3 1031.5,130.3 1044.5,135.4 1057.5,111.1 1070.5,117.5 1083.5,126.5 1096.5,116.2 1109.5,129.0 1122.5,130.3 1135.5,120.0 1148.5,122.6 1161.5,113.6 1174.5,112.3 1187.5,107.2 1200.5,107.2 1213.5,109.8 1226.5,107.2 1239.5,108.5 1252.5,114.9 1265.5,127.7 1278.5,125.2 1291.5,116.2 1304.5,114.9 1317.5,130.3 1330.5,129.0 1343.5,131.6 1356.5,141.8 1369.5,141.8 1382.5,136.7 1395.5,150.8 1408.5,158.5 1421.5,148.3 1434.5,149.5 1447.5,153.4 1460.5,140.6 1473.5,145.7 1486.5,147.0 1499.5,149.5 1512.5,145.7 1525.5,131.6 1538.5,136.7 1551.5,136.7 1564.5,148.3 1577.5,150.8 1590.5,153.4 1603.5,148.3 1616.5,145.7 1629.5,148.3 1642.5,140.6 1655.5,130.3 1668.5,118.8" fill="none" stroke="#9400d3" stroke-width="2.2" stroke-linejoin="miter"/>
<line x1="56" y1="130" x2="1677" y2="130" stroke="#000" stroke-width="2"/>
<rect x="68" y="615" width="3" height="42" fill="#000"/>
<rect x="65.5" y="630.5" width="8" height="21" fill="#90ee90" stroke="#000" stroke-width="1"/>
<rect x="81" y="630" width="3" height="22" fill="#000"/>
<line x1="78" y1="630.5" x2="87" y2="630.5" stroke="#000" stroke-width="1"/>
<rect x="94" y="573" width="3" height="69" fill="#000"/>
<rect x="91.5" y="578.5" width="8" height="52" fill="#90ee90" stroke="#000" stroke-width="1"/>
<rect x="107" y="573" width="3" height="63" fill="#000"/>
<rect x="104.5" y="583.5" width="8" height="16" fill="#ff0000" stroke="#000" stroke-width="1"/>
<rect x="120" y="573" width="3" height="48" fill="#000"/>
<rect x="117.5" y="573.5" width="8" height="26" fill="#90ee90" stroke="#000" stroke-width="1"/>
<rect x="133" y="567" width="3" height="28" fill="#000"/>
<rect x="130.5" y="573.5" width="8" height="10" fill="#ff0000" stroke="#000" stroke-width="1"/>
<rect x="146" y="567" width="3" height="33" fill="#000"/>
<rect x="143.5" y="583.5" width="8" height="5" fill="#ff0000" stroke="#000" stroke-width="1"/>
<rect x="159" y="531" width="3" height="58" fill="#000"/>
<rect x="156.5" y="541.5" width="8" height="47" fill="#90ee90" stroke="#000" stroke-width="1"/>
<rect x="172" y="536" width="3" height="22" fill="#000"/>
<rect x="169.5" y="536.5" width="8" height="16" fill="#ff0000" stroke="#000" stroke-width="1"/>
<rect x="185" y="536" width="3" height="27" fill="#000"/>
<rect x="182.5" y="552.5" width="8" height="5" fill="#90ee90" stroke="#000" stroke-width="1"/>
<rect x="198" y="547" width="3" height="42" fill="#000"/>
<rect x="195.5" y="552.5" width="8" height="26" fill="#ff0000" stroke="#000" stroke-width="1"/>
<rect x="211" y="552" width="3" height="32" fill="#000"/>
<rect x="208.5" y="578.5" width="8" height="5" fill="#ff0000" stroke="#000" stroke-width="1"/>
<rect x="224" y="557" width="3" height="32" fill="#000"/>
<rect x="221.5" y="562.5" width="8" height="21" fill="#90ee90" stroke="#000" stroke-width="1"/>
<rect x="237" y="541" width="3" height="33" fill="#000"/>
<rect x="234.5" y="562.5" width="8" height="5" fill="#ff0000" stroke="#000" stroke-width="1"/>
<rect x="250" y="557" width="3" height="48" fill="#000"/>
<rect x="247.5" y="567.5" width="8" height="16" fill="#ff0000" stroke="#000" stroke-width="1"/>
<rect x="263" y="583" width="3" height="22" fill="#000"/>
<line x1="260" y1="583.5" x2="269" y2="583.5" stroke="#000" stroke-width="1"/>
<rect x="276" y="510" width="3" height="69" fill="#000"/>
<rect x="273.5" y="520.5" width="8" height="58" fill="#90ee90" stroke="#000" stroke-width="1"/>
<rect x="289" y="515" width="3" height="43" fill="#000"/>
<rect x="286.5" y="520.5" width="8" height="11" fill="#ff0000" stroke="#000" stroke-width="1"/>
<rect x="302" y="531" width="3" height="43" fill="#000"/>
<rect x="299.5" y="531.5" width="8" height="36" fill="#ff0000" stroke="#000" stroke-width="1"/>
<rect x="315" y="562" width="3" height="69" fill="#000"/>
<rect x="312.5" y="573.5" width="8" height="36" fill="#ff0000" stroke="#000" stroke-width="1"/>
<rect x="328" y="588" width="3" height="48" fill="#000"/>
<rect x="325.5" y="599.5" width="8" height="5" fill="#90ee90" stroke="#000" stroke-width="1"/>
<rect x="341" y="583" width="3" height="43" fill="#000"/>
<rect x="338.5" y="594.5" width="8" height="5" fill="#90ee90" stroke="#000" stroke-width="1"/>
<rect x="354" y="557" width="3" height="43" fill="#000"/>
<rect x="351.5" y="567.5" width="8" height="27" fill="#90ee90" stroke="#000" stroke-width="1"/>
<rect x="367" y="536" width="3" height="38" fill="#000"/>
<rect x="364.5" y="552.5" width="8" height="21" fill="#90ee90" stroke="#000" stroke-width="1"/>
<rect x="380" y="531" width="3" height="32" fill="#000"/>
<rect x="377.5" y="536.5" width="8" height="16" fill="#90ee90" stroke="#000" stroke-width="1"/>
<rect x="393" y="510" width="3" height="32" fill="#000"/>
<rect x="390.5" y="531.5" width="8" height="10" fill="#90ee90" stroke="#000" stroke-width="1"/>
<rect x="406" y="510" width="3" height="58" fill="#000"/>
<rect x="403.5" y="531.5" width="8" height="31" fill="#ff0000" stroke="#000" stroke-width="1"/>
<rect x="419" y="526" width="3" height="42" fill="#000"/>
<rect x="416.5" y="536.5" width="8" height="26" fill="#90ee90" stroke="#000" stroke-width="1"/>
<rect x="432" y="515" width="3" height="33" fill="#000"/>
<line x1="429" y1="536.5" x2="438" y2="536.5" stroke="#000" stroke-width="1"/>
<rect x="445" y="526" width="3" height="42" fill="#000"/>
<line x1="442" y1="536.5" x2="451" y2="536.5" stroke="#000" stroke-width="1"/>
<rect x="458" y="510" width="3" height="32" fill="#000"/>
<rect x="455.5" y="531.5" width="8" height="5" fill="#ff0000" stroke="#000" stroke-width="1"/>
<rect x="471" y="520" width="3" height="22" fill="#000"/>
<rect x="468.5" y="531.5" width="8" height="5" fill="#ff0000" stroke="#000" stroke-width="1"/>
<rect x="484" y="515" width="3" height="27" fill="#000"/>
<rect x="481.5" y="520.5" width="8" height="16" fill="#90ee90" stroke="#000" stroke-width="1"/>
<rect x="497" y="505" width="3" height="22" fill="#000"/>
<rect x="494.5" y="510.5" width="8" height="10" fill="#90ee90" stroke="#000" stroke-width="1"/>
<rect x="510" y="499" width="3" height="17" fill="#000"/>
<rect x="507.5" y="505.5" width="8" height="5" fill="#90ee90" stroke="#000" stroke-width="1"/>
<rect x="523" y="238" width="3" height="95" fill="#000"/>
<rect x="520.5" y="295.5" width="8" height="21" fill="#90ee90" stroke="#000" stroke-width="1"/>
<rect x="536" y="285" width="3" height="69" fill="#000"/>
<rect x="533.5" y="295.5" width="8" height="37" fill="#ff0000" stroke="#000" stroke-width="1"/>
<rect x="549" y="280" width="3" height="64" fill="#000"/>
<rect x="546.5" y="322.5" width="8" height="10" fill="#90ee90" stroke="#000" stroke-width="1"/>
<rect x="562" y="306" width="3" height="126" fill="#000"/>
<rect x="559.5" y="327.5" width="8" height="99" fill="#ff0000" stroke="#000" stroke-width="1"/>
<rect x="575" y="343" width="3" height="84" fill="#000"/>
<rect x="572.5" y="358.5" width="8" height="68" fill="#90ee90" stroke="#000" stroke-width="1"/>
<rect x="588" y="353" width="3" height="85" fill="#000"/>
<rect x="585.5" y="353.5" width="8" height="84" fill="#ffe650" stroke="#000" stroke-width="1"/>
<rect x="601" y="426" width="3" height="90" fill="#000"/>
<rect x="598.5" y="437.5" width="8" height="78" fill="#ffe650" stroke="#000" stroke-width="1"/>
<rect x="614" y="479" width="3" height="69" fill="#000"/>
<rect x="611.5" y="494.5" width="8" height="26" fill="#90ee90" stroke="#000" stroke-width="1"/>
<rect x="627" y="484" width="3" height="48" fill="#000"/>
<rect x="624.5" y="494.5" width="8" height="11" fill="#ff0000" stroke="#000" stroke-width="1"/>
<rect x="640" y="452" width="3" height="54" fill="#000"/>
<rect x="637.5" y="463.5" width="8" height="36" fill="#90ee90" stroke="#000" stroke-width="1"/>
<rect x="653" y="421" width="3" height="59" fill="#000"/>
<line x1="650" y1="458.5" x2="659" y2="458.5" stroke="#000" stroke-width="1"/>
<rect x="666" y="458" width="3" height="37" fill="#000"/>
<rect x="663.5" y="463.5" width="8" height="26" fill="#ff0000" stroke="#000" stroke-width="1"/>
<rect x="679" y="452" width="3" height="38" fill="#000"/>
<rect x="676.5" y="484.5" width="8" height="5" fill="#ff0000" stroke="#000" stroke-width="1"/>
<rect x="692" y="452" width="3" height="75" fill="#000"/>
<rect x="689.5" y="452.5" width="8" height="32" fill="#90ee90" stroke="#000" stroke-width="1"/>
<rect x="705" y="421" width="3" height="74" fill="#000"/>
<rect x="702.5" y="437.5" width="8" height="21" fill="#90ee90" stroke="#000" stroke-width="1"/>
<rect x="718" y="405" width="3" height="59" fill="#000"/>
<rect x="715.5" y="437.5" width="8" height="21" fill="#ff0000" stroke="#000" stroke-width="1"/>
<rect x="731" y="452" width="3" height="158" fill="#000"/>
<rect x="728.5" y="463.5" width="8" height="146" fill="#ff0000" stroke="#000" stroke-width="1"/>
<rect x="744" y="599" width="3" height="58" fill="#000"/>
<rect x="741.5" y="604.5" width="8" height="5" fill="#90ee90" stroke="#000" stroke-width="1"/>
<rect x="757" y="552" width="3" height="58" fill="#000"/>
<rect x="754.5" y="562.5" width="8" height="47" fill="#90ee90" stroke="#000" stroke-width="1"/>
<rect x="770" y="531" width="3" height="69" fill="#000"/>
<rect x="767.5" y="562.5" width="8" height="32" fill="#ff0000" stroke="#000" stroke-width="1"/>
<rect x="783" y="531" width="3" height="74" fill="#000"/>
<rect x="780.5" y="552.5" width="8" height="42" fill="#90ee90" stroke="#000" stroke-width="1"/>
<rect x="796" y="547" width="3" height="53" fill="#000"/>
<rect x="793.5" y="552.5" width="8" height="31" fill="#ff0000" stroke="#000" stroke-width="1"/>
<rect x="809" y="541" width="3" height="69" fill="#000"/>
<rect x="806.5" y="552.5" width="8" height="26" fill="#90ee90" stroke="#000" stroke-width="1"/>
<rect x="822" y="515" width="3" height="48" fill="#000"/>
<rect x="819.5" y="515.5" width="8" height="37" fill="#90ee90" stroke="#000" stroke-width="1"/>
<rect x="835" y="505" width="3" height="43" fill="#000"/>
<rect x="832.5" y="515.5" width="8" height="26" fill="#ff0000" stroke="#000" stroke-width="1"/>
<rect x="848" y="494" width="3" height="59" fill="#000"/>
<rect x="845.5" y="499.5" width="8" height="42" fill="#90ee90" stroke="#000" stroke-width="1"/>
<rect x="861" y="494" width="3" height="33" fill="#000"/>
<rect x="858.5" y="494.5" width="8" height="21" fill="#ff0000" stroke="#000" stroke-width="1"/>
<rect x="874" y="510" width="3" height="53" fill="#000"/>
<rect x="871.5" y="515.5" width="8" height="26" fill="#ff0000" stroke="#000" stroke-width="1"/>
<rect x="887" y="531" width="3" height="27" fill="#000"/>
<line x1="884" y1="541.5" x2="893" y2="541.5" stroke="#000" stroke-width="1"/>
<rect x="900" y="515" width="3" height="85" fill="#000"/>
<rect x="897.5" y="547.5" width="8" height="41" fill="#ff0000" stroke="#000" stroke-width="1"/>
<rect x="913" y="583" width="3" height="48" fill="#000"/>
<line x1="910" y1="588.5" x2="919" y2="588.5" stroke="#000" stroke-width="1"/>
<rect x="926" y="562" width="3" height="59" fill="#000"/>
<rect x="923.5" y="594.5" width="8" height="5" fill="#90ee90" stroke="#000" stroke-width="1"/>
<rect x="939" y="567" width="3" height="64" fill="#000"/>
<rect x="936.5" y="594.5" width="8" height="31" fill="#ff0000" stroke="#000" stroke-width="1"/>
<rect x="952" y="588" width="3" height="43" fill="#000"/>
<rect x="949.5" y="609.5" width="8" height="16" fill="#90ee90" stroke="#000" stroke-width="1"/>
<rect x="965" y="583" width="3" height="38" fill="#000"/>
<rect x="962.5" y="604.5" width="8" height="5" fill="#ff0000" stroke="#000" stroke-width="1"/>
<rect x="978" y="578" width="3" height="48" fill="#000"/>
<rect x="975.5" y="588.5" width="8" height="27" fill="#90ee90" stroke="#000" stroke-width="1"/>
<rect x="991" y="567" width="3" height="28" fill="#000"/>
<rect x="988.5" y="573.5" width="8" height="21" fill="#90ee90" stroke="#000" stroke-width="1"/>
<rect x="1004" y="547" width="3" height="32" fill="#000"/>
<rect x="1001.5" y="547.5" width="8" height="26" fill="#90ee90" stroke="#000" stroke-width="1"/>
<rect x="1017" y="547" width="3" height="27" fill="#000"/>
<rect x="1014.5" y="547.5" width="8" height="15" fill="#ff0000" stroke="#000" stroke-width="1"/>
<rect x="1030" y="547" width="3" height="63" fill="#000"/>
<rect x="1027.5" y="562.5" width="8" height="32" fill="#ff0000" stroke="#000" stroke-width="1"/>
<rect x="1043" y="562" width="3" height="54" fill="#000"/>
<rect x="1040.5" y="573.5" width="8" height="21" fill="#90ee90" stroke="#000" stroke-width="1"/>
<rect x="1056" y="494" width="3" height="80" fill="#000"/>
<rect x="1053.5" y="505.5" width="8" height="68" fill="#90ee90" stroke="#000" stroke-width="1"/>
<rect x="1069" y="489" width="3" height="27" fill="#000"/>
<rect x="1066.5" y="499.5" width="8" height="6" fill="#90ee90" stroke="#000" stroke-width="1"/>
<rect x="1082" y="489" width="3" height="27" fill="#000"/>
<line x1="1079" y1="499.5" x2="1088" y2="499.5" stroke="#000" stroke-width="1"/>
<rect x="1095" y="484" width="3" height="27" fill="#000"/>
<rect x="1092.5" y="484.5" width="8" height="15" fill="#90ee90" stroke="#000" stroke-width="1"/>
<rect x="1108" y="463" width="3" height="32" fill="#000"/>
<rect x="1105.5" y="484.5" width="8" height="10" fill="#ff0000" stroke="#000" stroke-width="1"/>
<rect x="1121" y="489" width="3" height="27" fill="#000"/>
<rect x="1118.5" y="494.5" width="8" height="21" fill="#ff0000" stroke="#000" stroke-width="1"/>
<rect x="1134" y="499" width="3" height="28" fill="#000"/>
<rect x="1131.5" y="499.5" width="8" height="16" fill="#90ee90" stroke="#000" stroke-width="1"/>
<rect x="1147" y="499" width="3" height="22" fill="#000"/>
<rect x="1144.5" y="499.5" width="8" height="11" fill="#ff0000" stroke="#000" stroke-width="1"/>
<rect x="1160" y="505" width="3" height="16" fill="#000"/>
<rect x="1157.5" y="510.5" width="8" height="10" fill="#ff0000" stroke="#000" stroke-width="1"/>
<rect x="1173" y="515" width="3" height="17" fill="#000"/>
<rect x="1170.5" y="515.5" width="8" height="5" fill="#90ee90" stroke="#000" stroke-width="1"/>
<rect x="1186" y="494" width="3" height="38" fill="#000"/>
<rect x="1183.5" y="499.5" width="8" height="21" fill="#90ee90" stroke="#000" stroke-width="1"/>
<rect x="1199" y="494" width="3" height="43" fill="#000"/>
<rect x="1196.5" y="494.5" width="8" height="37" fill="#ff0000" stroke="#000" stroke-width="1"/>
<rect x="1212" y="515" width="3" height="22" fill="#000"/>
<line x1="1209" y1="526.5" x2="1218" y2="526.5" stroke="#000" stroke-width="1"/>
<rect x="1225" y="510" width="3" height="17" fill="#000"/>
<rect x="1222.5" y="515.5" width="8" height="11" fill="#90ee90" stroke="#000" stroke-width="1"/>
<rect x="1238" y="489" width="3" height="22" fill="#000"/>
<rect x="1235.5" y="499.5" width="8" height="11" fill="#90ee90" stroke="#000" stroke-width="1"/>
<rect x="1251" y="494" width="3" height="17" fill="#000"/>
<rect x="1248.5" y="505.5" width="8" height="5" fill="#ff0000" stroke="#000" stroke-width="1"/>
<rect x="1264" y="505" width="3" height="32" fill="#000"/>
<rect x="1261.5" y="510.5" width="8" height="26" fill="#ff0000" stroke="#000" stroke-width="1"/>
<rect x="1277" y="531" width="3" height="27" fill="#000"/>
<rect x="1274.5" y="536.5" width="8" height="5" fill="#ff0000" stroke="#000" stroke-width="1"/>
<rect x="1290" y="531" width="3" height="17" fill="#000"/>
<rect x="1287.5" y="536.5" width="8" height="11" fill="#90ee90" stroke="#000" stroke-width="1"/>
<rect x="1303" y="510" width="3" height="32" fill="#000"/>
<rect x="1300.5" y="510.5" width="8" height="26" fill="#90ee90" stroke="#000" stroke-width="1"/>
<rect x="1316" y="489" width="3" height="27" fill="#000"/>
<line x1="1313" y1="505.5" x2="1322" y2="505.5" stroke="#000" stroke-width="1"/>
<rect x="1329" y="489" width="3" height="17" fill="#000"/>
<rect x="1326.5" y="494.5" width="8" height="11" fill="#90ee90" stroke="#000" stroke-width="1"/>
<rect x="1342" y="494" width="3" height="22" fill="#000"/>
<rect x="1339.5" y="499.5" width="8" height="6" fill="#ff0000" stroke="#000" stroke-width="1"/>
<rect x="1355" y="499" width="3" height="33" fill="#000"/>
<rect x="1352.5" y="510.5" width="8" height="21" fill="#ff0000" stroke="#000" stroke-width="1"/>
<rect x="1368" y="510" width="3" height="38" fill="#000"/>
<rect x="1365.5" y="531.5" width="8" height="10" fill="#ff0000" stroke="#000" stroke-width="1"/>
<rect x="1381" y="531" width="3" height="17" fill="#000"/>
<line x1="1378" y1="541.5" x2="1387" y2="541.5" stroke="#000" stroke-width="1"/>
<rect x="1394" y="520" width="3" height="64" fill="#000"/>
<rect x="1391.5" y="536.5" width="8" height="47" fill="#ff0000" stroke="#000" stroke-width="1"/>
<rect x="1407" y="573" width="3" height="53" fill="#000"/>
<rect x="1404.5" y="583.5" width="8" height="42" fill="#ff0000" stroke="#000" stroke-width="1"/>
<rect x="1420" y="588" width="3" height="54" fill="#000"/>
<rect x="1417.5" y="594.5" width="8" height="31" fill="#90ee90" stroke="#000" stroke-width="1"/>
<rect x="1433" y="588" width="3" height="28" fill="#000"/>
<rect x="1430.5" y="594.5" width="8" height="5" fill="#90ee90" stroke="#000" stroke-width="1"/>
<rect x="1446" y="578" width="3" height="22" fill="#000"/>
<rect x="1443.5" y="588.5" width="8" height="6" fill="#ff0000" stroke="#000" stroke-width="1"/>
<rect x="1459" y="573" width="3" height="37" fill="#000"/>
<rect x="1456.5" y="573.5" width="8" height="15" fill="#90ee90" stroke="#000" stroke-width="1"/>
<rect x="1472" y="562" width="3" height="33" fill="#000"/>
<rect x="1469.5" y="573.5" width="8" height="15" fill="#ff0000" stroke="#000" stroke-width="1"/>
<rect x="1485" y="573" width="3" height="22" fill="#000"/>
<rect x="1482.5" y="583.5" width="8" height="5" fill="#90ee90" stroke="#000" stroke-width="1"/>
<rect x="1498" y="562" width="3" height="27" fill="#000"/>
<rect x="1495.5" y="578.5" width="8" height="10" fill="#90ee90" stroke="#000" stroke-width="1"/>
<rect x="1511" y="573" width="3" height="27" fill="#000"/>
<rect x="1508.5" y="573.5" width="8" height="5" fill="#90ee90" stroke="#000" stroke-width="1"/>
<rect x="1524" y="536" width="3" height="38" fill="#000"/>
<rect x="1521.5" y="541.5" width="8" height="32" fill="#90ee90" stroke="#000" stroke-width="1"/>
<rect x="1537" y="541" width="3" height="33" fill="#000"/>
<rect x="1534.5" y="541.5" width="8" height="26" fill="#ff0000" stroke="#000" stroke-width="1"/>
<rect x="1550" y="552" width="3" height="22" fill="#000"/>
<rect x="1547.5" y="562.5" width="8" height="5" fill="#90ee90" stroke="#000" stroke-width="1"/>
<rect x="1563" y="557" width="3" height="27" fill="#000"/>
<rect x="1560.5" y="562.5" width="8" height="21" fill="#ff0000" stroke="#000" stroke-width="1"/>
<rect x="1576" y="578" width="3" height="43" fill="#000"/>
<rect x="1573.5" y="583.5" width="8" height="5" fill="#ff0000" stroke="#000" stroke-width="1"/>
<rect x="1589" y="567" width="3" height="33" fill="#000"/>
<rect x="1586.5" y="583.5" width="8" height="5" fill="#ff0000" stroke="#000" stroke-width="1"/>
<rect x="1602" y="573" width="3" height="16" fill="#000"/>
<rect x="1599.5" y="578.5" width="8" height="10" fill="#90ee90" stroke="#000" stroke-width="1"/>
<rect x="1615" y="578" width="3" height="22" fill="#000"/>
<rect x="1612.5" y="578.5" width="8" height="16" fill="#ff0000" stroke="#000" stroke-width="1"/>
<rect x="1628" y="583" width="3" height="38" fill="#000"/>
<rect x="1625.5" y="594.5" width="8" height="21" fill="#ff0000" stroke="#000" stroke-width="1"/>
<rect x="1641" y="573" width="3" height="43" fill="#000"/>
<rect x="1638.5" y="583.5" width="8" height="32" fill="#90ee90" stroke="#000" stroke-width="1"/>
<rect x="1654" y="567" width="3" height="22" fill="#000"/>
<line x1="1651" y1="583.5" x2="1660" y2="583.5" stroke="#000" stroke-width="1"/>
<rect x="1667" y="562" width="3" height="22" fill="#000"/>
<rect x="1664.5" y="578.5" width="8" height="5" fill="#90ee90" stroke="#000" stroke-width="1"/>
<line x1="56" y1="597.5" x2="1677" y2="597.5" stroke="#fff" stroke-width="1" stroke-dasharray="4 3"/>
<rect x="56" y="731" width="1621" height="3" fill="#9acd32"/>
<rect x="56" y="837" width="1621" height="3" fill="#ff0000"/>
<polyline points="69.5,805.4 82.5,805.4 95.5,784.6 108.5,791.4 121.5,781.3 134.5,784.5 147.5,787.1 160.5,769.4 173.5,774.7 186.5,774.7 199.5,785.6 212.5,788.5 225.5,778.7 238.5,781.9 251.5,788.5 264.5,788.5 277.5,760.4 290.5,766.7 303.5,784.0 316.5,800.7 329.5,796.4 342.5,793.8 355.5,780.8 368.5,773.6 381.5,767.3 394.5,766.0 407.5,782.6 420.5,770.5 433.5,770.5 446.5,770.5 459.5,770.5 472.5,770.5 485.5,761.2 498.5,756.4 511.5,753.8 524.5,699.7 537.5,719.3 550.5,718.0 563.5,763.3 576.5,746.6 589.5,771.5 602.5,791.4 615.5,786.6 628.5,788.7 641.5,778.4 654.5,776.8 667.5,785.6 680.5,785.6 693.5,774.7 706.5,770.5 719.5,777.9 732.5,815.2 745.5,813.9 758.5,801.7 771.5,808.4 784.5,795.9 797.5,802.3 810.5,793.0 823.5,783.4 836.5,790.3 849.5,779.7 862.5,782.9 875.5,790.9 888.5,790.9 901.5,803.3 914.5,803.3 927.5,804.9 940.5,813.9 953.5,807.6 966.5,807.6 979.5,798.5 992.5,791.7 1005.5,781.9 1018.5,788.2 1031.5,799.6 1044.5,791.4 1057.5,765.2 1070.5,764.6 1083.5,764.6 1096.5,759.1 1109.5,765.2 1122.5,774.7 1135.5,768.3 1148.5,773.6 1161.5,778.7 1174.5,776.8 1187.5,768.1 1200.5,785.6 1213.5,782.6 1226.5,778.4 1239.5,769.4 1252.5,775.0 1265.5,791.4 1278.5,793.5 1291.5,790.3 1304.5,774.7 1317.5,771.5 1330.5,766.7 1343.5,773.6 1356.5,790.3 1369.5,796.4 1382.5,796.4 1395.5,816.8 1408.5,834.1 1421.5,812.6 1434.5,812.6 1447.5,813.1 1460.5,799.1 1473.5,806.5 1486.5,803.2 1499.5,800.7 1512.5,796.4 1525.5,775.0 1538.5,790.6 1551.5,788.2 1564.5,800.1 1577.5,803.2 1590.5,803.2 1603.5,794.8 1616.5,804.9 1629.5,814.7 1642.5,793.2 1655.5,793.2 1668.5,788.9" fill="none" stroke="#ffa500" stroke-width="4" stroke-linejoin="miter"/>
<polyline points="69.5,805.4 82.5,805.4 95.5,784.6 108.5,791.4 121.5,781.3 134.5,784.5 147.5,787.1 160.5,769.4 173.5,774.7 186.5,774.7 199.5,785.6 212.5,788.5 225.5,778.7 238.5,781.9 251.5,788.5 264.5,788.5 277.5,760.4 290.5,766.7 303.5,784.0 316.5,800.7 329.5,796.4 342.5,793.8 355.5,780.8 368.5,773.6 381.5,767.3 394.5,766.0 407.5,782.6 420.5,770.5 433.5,770.5 446.5,770.5 459.5,770.5 472.5,770.5 485.5,761.2 498.5,756.4 511.5,753.8 524.5,699.7 537.5,719.3 550.5,718.0 563.5,763.3 576.5,746.6 589.5,771.5 602.5,791.4 615.5,786.6 628.5,788.7 641.5,778.4 654.5,776.8 667.5,785.6 680.5,785.6 693.5,774.7 706.5,770.5 719.5,777.9 732.5,815.2 745.5,813.9 758.5,801.7 771.5,808.4 784.5,795.9 797.5,802.3 810.5,793.0 823.5,783.4 836.5,790.3 849.5,779.7 862.5,782.9 875.5,790.9 888.5,790.9 901.5,803.3 914.5,803.3 927.5,804.9 940.5,813.9 953.5,807.6 966.5,807.6 979.5,798.5 992.5,791.7 1005.5,781.9 1018.5,788.2 1031.5,799.6 1044.5,791.4 1057.5,765.2 1070.5,764.6 1083.5,764.6 1096.5,759.1 1109.5,765.2 1122.5,774.7 1135.5,768.3 1148.5,773.6 1161.5,778.7 1174.5,776.8 1187.5,768.1 1200.5,785.6 1213.5,782.6 1226.5,778.4 1239.5,769.4 1252.5,775.0 1265.5,791.4 1278.5,793.5 1291.5,790.3 1304.5,774.7 1317.5,771.5 1330.5,766.7 1343.5,773.6 1356.5,790.3 1369.5,796.4 1382.5,796.4 1395.5,816.8 1408.5,834.1 1421.5,812.6 1434.5,812.6 1447.5,813.1 1460.5,799.1 1473.5,806.5 1486.5,803.2 1499.5,800.7 1512.5,796.4 1525.5,775.0 1538.5,790.6 1551.5,788.2 1564.5,800.1 1577.5,803.2 1590.5,803.2 1603.5,794.8 1616.5,804.9 1629.5,814.7 1642.5,793.2 1655.5,793.2 1668.5,788.9" fill="none" stroke="#fff" stroke-width="1.4" stroke-dasharray="2 2"/>
<line x1="56" y1="971.5" x2="1677" y2="971.5" stroke="#778899" stroke-width="1"/>
<rect x="68.0" y="955.5" width="3" height="16.0" fill="#708090"/>
<rect x="81.0" y="956.5" width="3" height="15.0" fill="#708090"/>
<rect x="94.0" y="941.3" width="3" height="30.2" fill="#708090"/>
<rect x="107.0" y="943.4" width="3" height="28.1" fill="#708090"/>
<rect x="120.0" y="933.2" width="3" height="38.3" fill="#708090"/>
<rect x="133.0" y="962.3" width="3" height="9.2" fill="#708090"/>
<rect x="146.0" y="960.2" width="3" height="11.2" fill="#708090"/>
<rect x="159.0" y="942.3" width="3" height="29.2" fill="#708090"/>
<rect x="172.0" y="962.3" width="3" height="9.2" fill="#708090"/>
<rect x="185.0" y="959.0" width="3" height="12.5" fill="#708090"/>
<rect x="198.0" y="958.2" width="3" height="13.3" fill="#708090"/>
<rect x="211.0" y="958.2" width="3" height="13.3" fill="#708090"/>
<rect x="224.0" y="956.5" width="3" height="15.0" fill="#708090"/>
<rect x="237.0" y="958.2" width="3" height="13.3" fill="#708090"/>
<rect x="250.0" y="930.5" width="3" height="41.0" fill="#708090"/>
<rect x="263.0" y="941.3" width="3" height="30.2" fill="#708090"/>
<rect x="276.0" y="942.3" width="3" height="29.2" fill="#708090"/>
<rect x="289.0" y="954.4" width="3" height="17.1" fill="#708090"/>
<rect x="302.0" y="942.3" width="3" height="29.2" fill="#708090"/>
<rect x="315.0" y="936.3" width="3" height="35.2" fill="#708090"/>
<rect x="328.0" y="946.5" width="3" height="25.0" fill="#708090"/>
<rect x="341.0" y="943.4" width="3" height="28.1" fill="#708090"/>
<rect x="354.0" y="941.3" width="3" height="30.2" fill="#708090"/>
<rect x="367.0" y="925.2" width="3" height="46.2" fill="#708090"/>
<rect x="380.0" y="950.2" width="3" height="21.2" fill="#708090"/>
<rect x="393.0" y="922.1" width="3" height="49.4" fill="#708090"/>
<rect x="406.0" y="948.2" width="3" height="23.3" fill="#708090"/>
<rect x="419.0" y="923.2" width="3" height="48.3" fill="#708090"/>
<rect x="432.0" y="923.2" width="3" height="48.3" fill="#708090"/>
<rect x="445.0" y="868.4" width="3" height="103.1" fill="#708090"/>
<rect x="458.0" y="914.4" width="3" height="57.1" fill="#708090"/>
<rect x="471.0" y="954.4" width="3" height="17.1" fill="#708090"/>
<rect x="484.0" y="955.5" width="3" height="16.0" fill="#708090"/>
<rect x="497.0" y="956.5" width="3" height="15.0" fill="#708090"/>
<rect x="510.0" y="950.2" width="3" height="21.2" fill="#708090"/>
<rect x="523.0" y="859.2" width="3" height="112.3" fill="#708090"/>
<rect x="536.0" y="902.3" width="3" height="69.2" fill="#708090"/>
<rect x="549.0" y="917.3" width="3" height="54.2" fill="#708090"/>
<rect x="562.0" y="896.5" width="3" height="75.0" fill="#708090"/>
<rect x="575.0" y="920.5" width="3" height="51.0" fill="#708090"/>
<rect x="588.0" y="913.4" width="3" height="58.1" fill="#708090"/>
<rect x="601.0" y="886.3" width="3" height="85.2" fill="#708090"/>
<rect x="614.0" y="905.5" width="3" height="66.0" fill="#708090"/>
<rect x="627.0" y="924.2" width="3" height="47.3" fill="#708090"/>
<rect x="640.0" y="949.2" width="3" height="22.3" fill="#708090"/>
<rect x="653.0" y="951.3" width="3" height="20.2" fill="#708090"/>
<rect x="666.0" y="953.4" width="3" height="18.1" fill="#708090"/>
<rect x="679.0" y="951.3" width="3" height="20.2" fill="#708090"/>
<rect x="692.0" y="937.3" width="3" height="34.2" fill="#708090"/>
<rect x="705.0" y="939.4" width="3" height="32.1" fill="#708090"/>
<rect x="718.0" y="948.2" width="3" height="23.3" fill="#708090"/>
<rect x="731.0" y="885.2" width="3" height="86.2" fill="#708090"/>
<rect x="744.0" y="915.2" width="3" height="56.2" fill="#708090"/>
<rect x="757.0" y="940.2" width="3" height="31.2" fill="#708090"/>
<rect x="770.0" y="944.4" width="3" height="27.1" fill="#708090"/>
<rect x="783.0" y="944.4" width="3" height="27.1" fill="#708090"/>
<rect x="796.0" y="943.4" width="3" height="28.1" fill="#708090"/>
<rect x="809.0" y="934.2" width="3" height="37.3" fill="#708090"/>
<rect x="822.0" y="945.5" width="3" height="26.0" fill="#708090"/>
<rect x="835.0" y="937.3" width="3" height="34.2" fill="#708090"/>
<rect x="848.0" y="947.1" width="3" height="24.4" fill="#708090"/>
<rect x="861.0" y="955.5" width="3" height="16.0" fill="#708090"/>
<rect x="874.0" y="922.3" width="3" height="49.2" fill="#708090"/>
<rect x="887.0" y="958.2" width="3" height="13.3" fill="#708090"/>
<rect x="900.0" y="906.5" width="3" height="65.0" fill="#708090"/>
<rect x="913.0" y="926.3" width="3" height="45.2" fill="#708090"/>
<rect x="926.0" y="945.5" width="3" height="26.0" fill="#708090"/>
<rect x="939.0" y="925.2" width="3" height="46.2" fill="#708090"/>
<rect x="952.0" y="941.3" width="3" height="30.2" fill="#708090"/>
<rect x="965.0" y="942.3" width="3" height="29.2" fill="#708090"/>
<rect x="978.0" y="938.4" width="3" height="33.1" fill="#708090"/>
<rect x="991.0" y="952.3" width="3" height="19.2" fill="#708090"/>
<rect x="1004.0" y="950.2" width="3" height="21.2" fill="#708090"/>
<rect x="1017.0" y="956.5" width="3" height="15.0" fill="#708090"/>
<rect x="1030.0" y="947.1" width="3" height="24.4" fill="#708090"/>
<rect x="1043.0" y="943.4" width="3" height="28.1" fill="#708090"/>
<rect x="1056.0" y="931.5" width="3" height="40.0" fill="#708090"/>
<rect x="1069.0" y="956.5" width="3" height="15.0" fill="#708090"/>
<rect x="1082.0" y="944.4" width="3" height="27.1" fill="#708090"/>
<rect x="1095.0" y="947.1" width="3" height="24.4" fill="#708090"/>
<rect x="1108.0" y="951.3" width="3" height="20.2" fill="#708090"/>
<rect x="1121.0" y="958.2" width="3" height="13.3" fill="#708090"/>
<rect x="1134.0" y="958.2" width="3" height="13.3" fill="#708090"/>
<rect x="1147.0" y="961.3" width="3" height="10.2" fill="#708090"/>
<rect x="1160.0" y="958.2" width="3" height="13.3" fill="#708090"/>
<rect x="1173.0" y="955.5" width="3" height="16.0" fill="#708090"/>
<rect x="1186.0" y="957.5" width="3" height="14.0" fill="#708090"/>
<rect x="1199.0" y="953.4" width="3" height="18.1" fill="#708090"/>
<rect x="1212.0" y="964.4" width="3" height="7.1" fill="#708090"/>
<rect x="1225.0" y="963.4" width="3" height="8.1" fill="#708090"/>
<rect x="1238.0" y="964.4" width="3" height="7.1" fill="#708090"/>
<rect x="1251.0" y="964.4" width="3" height="7.1" fill="#708090"/>
<rect x="1264.0" y="955.5" width="3" height="16.0" fill="#708090"/>
<rect x="1277.0" y="950.2" width="3" height="21.2" fill="#708090"/>
<rect x="1290.0" y="965.2" width="3" height="6.2" fill="#708090"/>
<rect x="1303.0" y="961.3" width="3" height="10.2" fill="#708090"/>
<rect x="1316.0" y="953.4" width="3" height="18.1" fill="#708090"/>
<rect x="1329.0" y="963.4" width="3" height="8.1" fill="#708090"/>
<rect x="1342.0" y="964.4" width="3" height="7.1" fill="#708090"/>
<rect x="1355.0" y="963.4" width="3" height="8.1" fill="#708090"/>
<rect x="1368.0" y="953.4" width="3" height="18.1" fill="#708090"/>
<rect x="1381.0" y="962.3" width="3" height="9.2" fill="#708090"/>
<rect x="1394.0" y="952.3" width="3" height="19.2" fill="#708090"/>
<rect x="1407.0" y="938.4" width="3" height="33.1" fill="#708090"/>
<rect x="1420.0" y="944.4" width="3" height="27.1" fill="#708090"/>
<rect x="1433.0" y="958.2" width="3" height="13.3" fill="#708090"/>
<rect x="1446.0" y="961.5" width="3" height="10.0" fill="#708090"/>
<rect x="1459.0" y="964.5" width="3" height="7.0" fill="#708090"/>
<rect x="1472.0" y="962.5" width="3" height="9.0" fill="#708090"/>
<rect x="1485.0" y="962.5" width="3" height="9.0" fill="#708090"/>
<rect x="1498.0" y="962.5" width="3" height="9.0" fill="#708090"/>
<rect x="1511.0" y="963.5" width="3" height="8.0" fill="#708090"/>
<rect x="1524.0" y="953.7" width="3" height="17.8" fill="#708090"/>
<rect x="1537.0" y="966.5" width="3" height="5.0" fill="#708090"/>
<rect x="1550.0" y="960.7" width="3" height="10.8" fill="#708090"/>
<rect x="1563.0" y="961.5" width="3" height="10.0" fill="#708090"/>
<rect x="1576.0" y="948.7" width="3" height="22.8" fill="#708090"/>
<rect x="1589.0" y="954.5" width="3" height="17.0" fill="#708090"/>
<rect x="1602.0" y="964.5" width="3" height="7.0" fill="#708090"/>
<rect x="1615.0" y="964.5" width="3" height="7.0" fill="#708090"/>
<rect x="1628.0" y="954.5" width="3" height="17.0" fill="#708090"/>
<rect x="1641.0" y="937.5" width="3" height="34.0" fill="#708090"/>
<rect x="1654.0" y="957.5" width="3" height="14.0" fill="#708090"/>
<rect x="1667.0" y="953.7" width="3" height="17.8" fill="#708090"/>
<line x1="55.5" y1="52" x2="55.5" y2="979" stroke="#000" stroke-width="1"/>
<line x1="1677.5" y1="52" x2="1677.5" y2="979" stroke="#000" stroke-width="1"/>
<line x1="55" y1="978.5" x2="1678" y2="978.5" stroke="#000" stroke-width="1"/>
<line x1="0" y1="206.5" x2="1752" y2="206.5" stroke="#000" stroke-width="1"/>
<line x1="0" y1="687.5" x2="1752" y2="687.5" stroke="#000" stroke-width="1"/>
<line x1="0" y1="847.5" x2="1752" y2="847.5" stroke="#000" stroke-width="1"/>
<line x1="1678" y1="53.5" x2="1683" y2="53.5" stroke="#000" stroke-width="1"/>
<text x="1685.5" y="57.4" font-size="12.5" font-family="Liberation Sans, sans-serif" fill="#000" text-anchor="start" textLength="14.1" lengthAdjust="spacingAndGlyphs">15</text>
<line x1="1678" y1="79.5" x2="1683" y2="79.5" stroke="#000" stroke-width="1"/>
<text x="1685.5" y="83.0" font-size="12.5" font-family="Liberation Sans, sans-serif" fill="#000" text-anchor="start" textLength="14.1" lengthAdjust="spacingAndGlyphs">10</text>
<line x1="1678" y1="104.5" x2="1683" y2="104.5" stroke="#000" stroke-width="1"/>
<text x="1685.5" y="108.7" font-size="12.5" font-family="Liberation Sans, sans-serif" fill="#000" text-anchor="start" textLength="6.4" lengthAdjust="spacingAndGlyphs">5</text>
<line x1="1678" y1="130.5" x2="1683" y2="130.5" stroke="#000" stroke-width="1"/>
<text x="1685.5" y="134.3" font-size="12.5" font-family="Liberation Sans, sans-serif" fill="#000" text-anchor="start" textLength="6.4" lengthAdjust="spacingAndGlyphs">0</text>
<line x1="1678" y1="155.5" x2="1683" y2="155.5" stroke="#000" stroke-width="1"/>
<text x="1685.5" y="160.0" font-size="12.5" font-family="Liberation Sans, sans-serif" fill="#000" text-anchor="start" textLength="11.9" lengthAdjust="spacingAndGlyphs">-5</text>
<line x1="1678" y1="181.5" x2="1683" y2="181.5" stroke="#000" stroke-width="1"/>
<text x="1685.5" y="185.6" font-size="12.5" font-family="Liberation Sans, sans-serif" fill="#000" text-anchor="start" textLength="19.5" lengthAdjust="spacingAndGlyphs">-10</text>
<line x1="1678" y1="672.5" x2="1683" y2="672.5" stroke="#000" stroke-width="1"/>
<text x="1685.5" y="676.1" font-size="12.5" font-family="Liberation Sans, sans-serif" fill="#000" text-anchor="start" textLength="48.9" lengthAdjust="spacingAndGlyphs">2322,00</text>
<line x1="1678" y1="630.5" x2="1683" y2="630.5" stroke="#000" stroke-width="1"/>
<text x="1685.5" y="634.2" font-size="12.5" font-family="Liberation Sans, sans-serif" fill="#000" text-anchor="start" textLength="48.9" lengthAdjust="spacingAndGlyphs">2324,00</text>
<line x1="1678" y1="588.5" x2="1683" y2="588.5" stroke="#000" stroke-width="1"/>
<text x="1685.5" y="592.4" font-size="12.5" font-family="Liberation Sans, sans-serif" fill="#000" text-anchor="start" textLength="48.9" lengthAdjust="spacingAndGlyphs">2326,00</text>
<line x1="1678" y1="546.5" x2="1683" y2="546.5" stroke="#000" stroke-width="1"/>
<text x="1685.5" y="550.5" font-size="12.5" font-family="Liberation Sans, sans-serif" fill="#000" text-anchor="start" textLength="48.9" lengthAdjust="spacingAndGlyphs">2328,00</text>
<line x1="1678" y1="504.5" x2="1683" y2="504.5" stroke="#000" stroke-width="1"/>
<text x="1685.5" y="508.7" font-size="12.5" font-family="Liberation Sans, sans-serif" fill="#000" text-anchor="start" textLength="48.9" lengthAdjust="spacingAndGlyphs">2330,00</text>
<line x1="1678" y1="462.5" x2="1683" y2="462.5" stroke="#000" stroke-width="1"/>
<text x="1685.5" y="466.9" font-size="12.5" font-family="Liberation Sans, sans-serif" fill="#000" text-anchor="start" textLength="48.9" lengthAdjust="spacingAndGlyphs">2332,00</text>
<line x1="1678" y1="421.5" x2="1683" y2="421.5" stroke="#000" stroke-width="1"/>
<text x="1685.5" y="425.0" font-size="12.5" font-family="Liberation Sans, sans-serif" fill="#000" text-anchor="start" textLength="48.9" lengthAdjust="spacingAndGlyphs">2334,00</text>
<line x1="1678" y1="379.5" x2="1683" y2="379.5" stroke="#000" stroke-width="1"/>
<text x="1685.5" y="383.1" font-size="12.5" font-family="Liberation Sans, sans-serif" fill="#000" text-anchor="start" textLength="48.9" lengthAdjust="spacingAndGlyphs">2336,00</text>
<line x1="1678" y1="337.5" x2="1683" y2="337.5" stroke="#000" stroke-width="1"/>
<text x="1685.5" y="341.3" font-size="12.5" font-family="Liberation Sans, sans-serif" fill="#000" text-anchor="start" textLength="48.9" lengthAdjust="spacingAndGlyphs">2338,00</text>
<line x1="1678" y1="295.5" x2="1683" y2="295.5" stroke="#000" stroke-width="1"/>
<text x="1685.5" y="299.4" font-size="12.5" font-family="Liberation Sans, sans-serif" fill="#000" text-anchor="start" textLength="48.9" lengthAdjust="spacingAndGlyphs">2340,00</text>
<line x1="1678" y1="253.5" x2="1683" y2="253.5" stroke="#000" stroke-width="1"/>
<text x="1685.5" y="257.6" font-size="12.5" font-family="Liberation Sans, sans-serif" fill="#000" text-anchor="start" textLength="48.9" lengthAdjust="spacingAndGlyphs">2342,00</text>
<line x1="1678" y1="705.5" x2="1683" y2="705.5" stroke="#000" stroke-width="1"/>
<text x="1685.5" y="709.0" font-size="12.5" font-family="Liberation Sans, sans-serif" fill="#000" text-anchor="start" textLength="14.1" lengthAdjust="spacingAndGlyphs">80</text>
<line x1="1678" y1="758.5" x2="1683" y2="758.5" stroke="#000" stroke-width="1"/>
<text x="1685.5" y="762.0" font-size="12.5" font-family="Liberation Sans, sans-serif" fill="#000" text-anchor="start" textLength="14.1" lengthAdjust="spacingAndGlyphs">60</text>
<line x1="1678" y1="811.5" x2="1683" y2="811.5" stroke="#000" stroke-width="1"/>
<text x="1685.5" y="815.0" font-size="12.5" font-family="Liberation Sans, sans-serif" fill="#000" text-anchor="start" textLength="14.1" lengthAdjust="spacingAndGlyphs">40</text>
<line x1="1678" y1="887.5" x2="1683" y2="887.5" stroke="#000" stroke-width="1"/>
<text x="1685.5" y="891.8" font-size="12.5" font-family="Liberation Sans, sans-serif" fill="#000" text-anchor="start" textLength="29.3" lengthAdjust="spacingAndGlyphs">4000</text>
<line x1="1678" y1="929.5" x2="1683" y2="929.5" stroke="#000" stroke-width="1"/>
<text x="1685.5" y="933.5" font-size="12.5" font-family="Liberation Sans, sans-serif" fill="#000" text-anchor="start" textLength="29.3" lengthAdjust="spacingAndGlyphs">2000</text>
<line x1="1678" y1="971.5" x2="1683" y2="971.5" stroke="#000" stroke-width="1"/>
<text x="1685.5" y="975.2" font-size="12.5" font-family="Liberation Sans, sans-serif" fill="#000" text-anchor="start" textLength="6.4" lengthAdjust="spacingAndGlyphs">0</text>
<line x1="50" y1="213.5" x2="55" y2="213.5" stroke="#000" stroke-width="1"/>
<text x="48.5" y="217.0" font-size="12.5" font-family="Liberation Sans, sans-serif" fill="#000" text-anchor="end" textLength="6.4" lengthAdjust="spacingAndGlyphs">9</text>
<line x1="50" y1="261.5" x2="55" y2="261.5" stroke="#000" stroke-width="1"/>
<text x="48.5" y="265.0" font-size="12.5" font-family="Liberation Sans, sans-serif" fill="#000" text-anchor="end" textLength="6.4" lengthAdjust="spacingAndGlyphs">8</text>
<line x1="50" y1="309.5" x2="55" y2="309.5" stroke="#000" stroke-width="1"/>
<text x="48.5" y="313.0" font-size="12.5" font-family="Liberation Sans, sans-serif" fill="#000" text-anchor="end" textLength="6.4" lengthAdjust="spacingAndGlyphs">7</text>
<line x1="50" y1="357.5" x2="55" y2="357.5" stroke="#000" stroke-width="1"/>
<text x="48.5" y="361.0" font-size="12.5" font-family="Liberation Sans, sans-serif" fill="#000" text-anchor="end" textLength="6.4" lengthAdjust="spacingAndGlyphs">6</text>
<line x1="50" y1="405.5" x2="55" y2="405.5" stroke="#000" stroke-width="1"/>
<text x="48.5" y="409.0" font-size="12.5" font-family="Liberation Sans, sans-serif" fill="#000" text-anchor="end" textLength="6.4" lengthAdjust="spacingAndGlyphs">5</text>
<line x1="50" y1="453.5" x2="55" y2="453.5" stroke="#000" stroke-width="1"/>
<text x="48.5" y="457.0" font-size="12.5" font-family="Liberation Sans, sans-serif" fill="#000" text-anchor="end" textLength="6.4" lengthAdjust="spacingAndGlyphs">4</text>
<line x1="50" y1="501.5" x2="55" y2="501.5" stroke="#000" stroke-width="1"/>
<text x="48.5" y="505.0" font-size="12.5" font-family="Liberation Sans, sans-serif" fill="#000" text-anchor="end" textLength="6.4" lengthAdjust="spacingAndGlyphs">3</text>
<line x1="50" y1="549.5" x2="55" y2="549.5" stroke="#000" stroke-width="1"/>
<text x="48.5" y="553.0" font-size="12.5" font-family="Liberation Sans, sans-serif" fill="#000" text-anchor="end" textLength="6.4" lengthAdjust="spacingAndGlyphs">2</text>
<line x1="50" y1="645.5" x2="55" y2="645.5" stroke="#000" stroke-width="1"/>
<text x="48.5" y="649.0" font-size="12.5" font-family="Liberation Sans, sans-serif" fill="#000" text-anchor="end" textLength="6.4" lengthAdjust="spacingAndGlyphs">0</text>
<line x1="121.5" y1="979" x2="121.5" y2="984" stroke="#000" stroke-width="1"/>
<text x="120.5" y="995.5" font-size="12.5" font-family="Liberation Sans, sans-serif" fill="#000" text-anchor="middle" textLength="34.8" lengthAdjust="spacingAndGlyphs">20:45</text>
<line x1="186.5" y1="979" x2="186.5" y2="984" stroke="#000" stroke-width="1"/>
<text x="185.5" y="995.5" font-size="12.5" font-family="Liberation Sans, sans-serif" fill="#000" text-anchor="middle" textLength="34.8" lengthAdjust="spacingAndGlyphs">21:00</text>
<line x1="251.5" y1="979" x2="251.5" y2="984" stroke="#000" stroke-width="1"/>
<text x="250.5" y="995.5" font-size="12.5" font-family="Liberation Sans, sans-serif" fill="#000" text-anchor="middle" textLength="34.8" lengthAdjust="spacingAndGlyphs">21:15</text>
<line x1="316.5" y1="979" x2="316.5" y2="984" stroke="#000" stroke-width="1"/>
<text x="315.5" y="995.5" font-size="12.5" font-family="Liberation Sans, sans-serif" fill="#000" text-anchor="middle" textLength="34.8" lengthAdjust="spacingAndGlyphs">21:30</text>
<line x1="381.5" y1="979" x2="381.5" y2="984" stroke="#000" stroke-width="1"/>
<text x="380.5" y="995.5" font-size="12.5" font-family="Liberation Sans, sans-serif" fill="#000" text-anchor="middle" textLength="34.8" lengthAdjust="spacingAndGlyphs">21:45</text>
<line x1="446.5" y1="979" x2="446.5" y2="984" stroke="#000" stroke-width="1"/>
<text x="445.5" y="995.5" font-size="12.5" font-family="Liberation Sans, sans-serif" fill="#000" text-anchor="middle" textLength="34.8" lengthAdjust="spacingAndGlyphs">22:00</text>
<line x1="511.5" y1="979" x2="511.5" y2="984" stroke="#000" stroke-width="1"/>
<text x="510.5" y="995.5" font-size="12.5" font-family="Liberation Sans, sans-serif" fill="#000" text-anchor="middle" textLength="34.8" lengthAdjust="spacingAndGlyphs">22:15</text>
<line x1="576.5" y1="979" x2="576.5" y2="984" stroke="#000" stroke-width="1"/>
<text x="575.5" y="995.5" font-size="12.5" font-family="Liberation Sans, sans-serif" fill="#000" text-anchor="middle" textLength="19.5" lengthAdjust="spacingAndGlyphs">4/8</text>
<line x1="641.5" y1="979" x2="641.5" y2="984" stroke="#000" stroke-width="1"/>
<text x="640.5" y="995.5" font-size="12.5" font-family="Liberation Sans, sans-serif" fill="#000" text-anchor="middle" textLength="34.8" lengthAdjust="spacingAndGlyphs">16:00</text>
<line x1="706.5" y1="979" x2="706.5" y2="984" stroke="#000" stroke-width="1"/>
<text x="705.5" y="995.5" font-size="12.5" font-family="Liberation Sans, sans-serif" fill="#000" text-anchor="middle" textLength="34.8" lengthAdjust="spacingAndGlyphs">16:15</text>
<line x1="771.5" y1="979" x2="771.5" y2="984" stroke="#000" stroke-width="1"/>
<text x="770.5" y="995.5" font-size="12.5" font-family="Liberation Sans, sans-serif" fill="#000" text-anchor="middle" textLength="34.8" lengthAdjust="spacingAndGlyphs">16:30</text>
<line x1="836.5" y1="979" x2="836.5" y2="984" stroke="#000" stroke-width="1"/>
<text x="835.5" y="995.5" font-size="12.5" font-family="Liberation Sans, sans-serif" fill="#000" text-anchor="middle" textLength="34.8" lengthAdjust="spacingAndGlyphs">16:45</text>
<line x1="901.5" y1="979" x2="901.5" y2="984" stroke="#000" stroke-width="1"/>
<text x="900.5" y="995.5" font-size="12.5" font-family="Liberation Sans, sans-serif" fill="#000" text-anchor="middle" textLength="34.8" lengthAdjust="spacingAndGlyphs">17:00</text>
<line x1="966.5" y1="979" x2="966.5" y2="984" stroke="#000" stroke-width="1"/>
<text x="965.5" y="995.5" font-size="12.5" font-family="Liberation Sans, sans-serif" fill="#000" text-anchor="middle" textLength="34.8" lengthAdjust="spacingAndGlyphs">17:15</text>
<line x1="1031.5" y1="979" x2="1031.5" y2="984" stroke="#000" stroke-width="1"/>
<text x="1030.5" y="995.5" font-size="12.5" font-family="Liberation Sans, sans-serif" fill="#000" text-anchor="middle" textLength="34.8" lengthAdjust="spacingAndGlyphs">17:30</text>
<line x1="1096.5" y1="979" x2="1096.5" y2="984" stroke="#000" stroke-width="1"/>
<text x="1095.5" y="995.5" font-size="12.5" font-family="Liberation Sans, sans-serif" fill="#000" text-anchor="middle" textLength="34.8" lengthAdjust="spacingAndGlyphs">17:45</text>
<line x1="1161.5" y1="979" x2="1161.5" y2="984" stroke="#000" stroke-width="1"/>
<text x="1160.5" y="995.5" font-size="12.5" font-family="Liberation Sans, sans-serif" fill="#000" text-anchor="middle" textLength="34.8" lengthAdjust="spacingAndGlyphs">18:00</text>
<line x1="1226.5" y1="979" x2="1226.5" y2="984" stroke="#000" stroke-width="1"/>
<text x="1225.5" y="995.5" font-size="12.5" font-family="Liberation Sans, sans-serif" fill="#000" text-anchor="middle" textLength="34.8" lengthAdjust="spacingAndGlyphs">18:15</text>
<line x1="1291.5" y1="979" x2="1291.5" y2="984" stroke="#000" stroke-width="1"/>
<text x="1290.5" y="995.5" font-size="12.5" font-family="Liberation Sans, sans-serif" fill="#000" text-anchor="middle" textLength="34.8" lengthAdjust="spacingAndGlyphs">18:30</text>
<line x1="1356.5" y1="979" x2="1356.5" y2="984" stroke="#000" stroke-width="1"/>
<text x="1355.5" y="995.5" font-size="12.5" font-family="Liberation Sans, sans-serif" fill="#000" text-anchor="middle" textLength="34.8" lengthAdjust="spacingAndGlyphs">18:45</text>
<line x1="1421.5" y1="979" x2="1421.5" y2="984" stroke="#000" stroke-width="1"/>
<text x="1420.5" y="995.5" font-size="12.5" font-family="Liberation Sans, sans-serif" fill="#000" text-anchor="middle" textLength="34.8" lengthAdjust="spacingAndGlyphs">19:00</text>
<line x1="1486.5" y1="979" x2="1486.5" y2="984" stroke="#000" stroke-width="1"/>
<text x="1485.5" y="995.5" font-size="12.5" font-family="Liberation Sans, sans-serif" fill="#000" text-anchor="middle" textLength="34.8" lengthAdjust="spacingAndGlyphs">19:15</text>
<line x1="1551.5" y1="979" x2="1551.5" y2="984" stroke="#000" stroke-width="1"/>
<text x="1550.5" y="995.5" font-size="12.5" font-family="Liberation Sans, sans-serif" fill="#000" text-anchor="middle" textLength="34.8" lengthAdjust="spacingAndGlyphs">19:30</text>
<line x1="1616.5" y1="979" x2="1616.5" y2="984" stroke="#000" stroke-width="1"/>
<text x="1615.5" y="995.5" font-size="12.5" font-family="Liberation Sans, sans-serif" fill="#000" text-anchor="middle" textLength="34.8" lengthAdjust="spacingAndGlyphs">19:45</text>
<text x="58.0" y="64.0" font-size="12.5" font-family="Liberation Sans, sans-serif" fill="#000" text-anchor="start" textLength="425.5" lengthAdjust="spacingAndGlyphs">Momentum(NQ 06-11 (3 Min),20), Momentum(NQ 06-11 (3 Min),20)</text>
<text x="58.0" y="229.0" font-size="12.5" font-family="Liberation Sans, sans-serif" fill="#000" text-anchor="start" textLength="334.0" lengthAdjust="spacingAndGlyphs">BarTimer(NQ 06-11 (3 Min)), Range(NQ 06-11 (3 Min))</text>
<text x="58.0" y="710.0" font-size="12.5" font-family="Liberation Sans, sans-serif" fill="#000" text-anchor="start" textLength="169.0" lengthAdjust="spacingAndGlyphs">RSI(NQ 06-11 (3 Min),14,1)</text>
<text x="58.0" y="870.0" font-size="12.5" font-family="Liberation Sans, sans-serif" fill="#000" text-anchor="start" textLength="139.5" lengthAdjust="spacingAndGlyphs">VOL(NQ 06-11 (3 Min))</text>
<text x="987.0" y="674.0" font-size="12.5" font-family="Liberation Sans, sans-serif" fill="#000" text-anchor="start" textLength="685.5" lengthAdjust="spacingAndGlyphs">Bar timer disabled since either you are disconnected or current time is outside session time or chart end date</text>
<text x="57.5" y="975.5" font-size="11" font-family="Liberation Sans, sans-serif" fill="#000" text-anchor="start" textLength="123.5" lengthAdjust="spacingAndGlyphs">© 2011 NinjaTrader, LLC</text>
<rect x="2.5" y="215.5" width="15" height="14" fill="none" stroke="#000" stroke-width="1"/>
<text x="10" y="227" font-size="11" font-family="Liberation Sans, sans-serif" fill="#000" text-anchor="middle">F</text>
<path d="M36.5,588.5 L46.5,588.5 L54.5,596.5 L46.5,604.5 L36.5,604.5 Z" fill="#a0a0a0" stroke="#000" stroke-width="1"/>
<text x="43" y="601" font-size="12" font-family="Liberation Sans, sans-serif" fill="#000" text-anchor="middle">1</text>
<path d="M1678,117.5 L1686,109.5 L1718,109.5 L1718,125.5 L1686,125.5 Z" fill="#aaaaaa" stroke="#000" stroke-width="1.3"/>
<text x="1688.5" y="122.0" font-size="12.5" font-family="Liberation Sans, sans-serif" fill="#000" text-anchor="start" textLength="26.1" lengthAdjust="spacingAndGlyphs">2,25</text>
<path d="M1678,577.5 L1686,569.5 L1741,569.5 L1741,585.5 L1686,585.5 Z" fill="#aaaaaa" stroke="#000" stroke-width="1.3"/>
<text x="1688.5" y="582.0" font-size="12.5" font-family="Liberation Sans, sans-serif" fill="#000" text-anchor="start" textLength="48.9" lengthAdjust="spacingAndGlyphs">2326,50</text>
<path d="M1678,788.5 L1686,780.5 L1724,780.5 L1724,796.5 L1686,796.5 Z" fill="#aaaaaa" stroke="#000" stroke-width="1.3"/>
<text x="1688.5" y="793.0" font-size="12.5" font-family="Liberation Sans, sans-serif" fill="#000" text-anchor="start" textLength="33.7" lengthAdjust="spacingAndGlyphs">48,34</text>
<path d="M1678,951.5 L1686,943.5 L1713,943.5 L1713,959.5 L1686,959.5 Z" fill="#aaaaaa" stroke="#000" stroke-width="1.3"/>
<text x="1688.5" y="956.0" font-size="12.5" font-family="Liberation Sans, sans-serif" fill="#000" text-anchor="start" textLength="21.7" lengthAdjust="spacingAndGlyphs">860</text>
<path d="M1647,57 L1664,67.5 L1647,78 Z" fill="#000"/>
<rect x="1664" y="57" width="4" height="21" rx="1" fill="#000"/>
</svg>
</body></html>
